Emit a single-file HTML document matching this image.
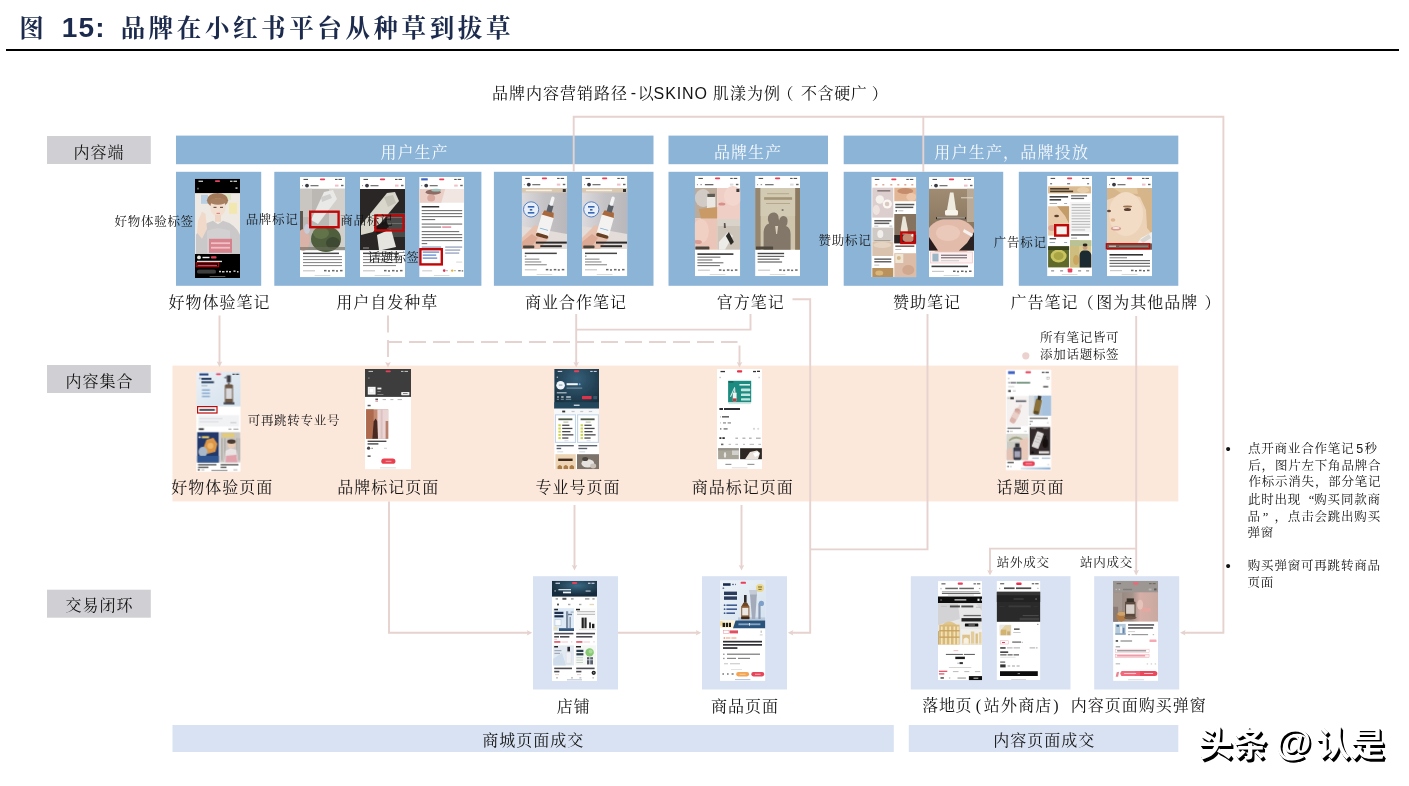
<!DOCTYPE html>
<html lang="zh-CN"><head><meta charset="utf-8"><title>图 15</title>
<style>
html,body{margin:0;padding:0;background:#fff;}
body{width:1409px;height:786px;position:relative;overflow:hidden;font-family:"Liberation Serif",serif;color:#141414;}
svg{position:absolute;left:0;top:0;}
.t{position:absolute;white-space:nowrap;line-height:1;}
.la{font-family:"Liberation Sans",sans-serif;}
.ts{font-family:"Liberation Sans",sans-serif;letter-spacing:1.2px;}
.title{font-weight:bold;color:#1c2b4d;}
.gh{font-family:"Liberation Serif",serif;color:transparent;}
.wm{font-family:"Liberation Sans",sans-serif;font-weight:bold;color:#fff;text-shadow:2.2px 2.2px 0 #000,1.5px 1.5px 0 #000,0.8px 0.8px 0 #000;}
</style></head>
<body>
<svg width="1409" height="786" viewBox="0 0 1409 786">
<rect x="6" y="49" width="1393" height="2" fill="#000"/>
<rect x="47" y="136" width="103.8" height="28" fill="#d0cfd3"/>
<rect x="47" y="365" width="103.8" height="28" fill="#d0cfd3"/>
<rect x="47" y="589.7" width="103.8" height="28" fill="#d0cfd3"/>
<rect x="176" y="135.6" width="477.5" height="28.6" fill="#8cb4d7"/>
<rect x="668.5" y="135.6" width="159.5" height="28.6" fill="#8cb4d7"/>
<rect x="843.7" y="135.6" width="334.6" height="28.6" fill="#8cb4d7"/>
<rect x="176" y="171.8" width="85.2" height="114" fill="#8cb4d7"/>
<rect x="274.3" y="171.8" width="207.1" height="114" fill="#8cb4d7"/>
<rect x="493.9" y="171.8" width="159.6" height="114" fill="#8cb4d7"/>
<rect x="668.5" y="171.8" width="159.5" height="114" fill="#8cb4d7"/>
<rect x="843.7" y="171.8" width="159.5" height="114" fill="#8cb4d7"/>
<rect x="1018.8" y="171.8" width="159.5" height="114" fill="#8cb4d7"/>
<rect x="172.5" y="365.6" width="1005.8" height="135.8" fill="#fce7db"/>
<rect x="533" y="576.2" width="85" height="113.3" fill="#d9e2f3"/>
<rect x="702" y="576.2" width="85" height="113.3" fill="#d9e2f3"/>
<rect x="910.8" y="576.2" width="159.7" height="113.3" fill="#d9e2f3"/>
<rect x="1094.2" y="576.2" width="85" height="113.3" fill="#d9e2f3"/>
<rect x="172.5" y="725" width="721.3" height="27" fill="#d9e2f3"/>
<rect x="908.8" y="725" width="269.5" height="27" fill="#d9e2f3"/>
<filter id="soft" x="0" y="0" width="1409" height="786" filterUnits="userSpaceOnUse"><feGaussianBlur stdDeviation="0.42"/></filter>
<g filter="url(#soft)"><svg x="195" y="178.8" width="45" height="99.2" viewBox="0 0 45 99.2"><rect x="0" y="0" width="45" height="99.2" fill="#050505"/><rect x="0" y="14.3" width="45" height="60.9" fill="#efe9e3"/><rect x="6" y="16" width="7" height="9" fill="#b9d0e4"/><rect x="34" y="24" width="8" height="11" fill="#f3e7b0"/><rect x="30" y="15" width="6" height="6" fill="#dfe6c2"/><ellipse cx="22.5" cy="21.5" rx="10.6" ry="7.4" fill="#a27a5a"/><ellipse cx="23" cy="28.5" rx="7.6" ry="9.2" fill="#f3dfd0"/><ellipse cx="23" cy="22.6" rx="8.2" ry="3.4" fill="#a9805f"/><g fill="#6a4a3c"><rect x="18.5" y="28" width="3" height="1.1"/><rect x="25" y="28" width="3" height="1.1"/></g><g fill="#d88a86"><rect x="21.5" y="34" width="3.5" height="1.2"/></g><rect x="20" y="36" width="6" height="7" fill="#efd5c4"/><path d="M1,75.2 V56 Q7,45 18,42 L23,45.5 L28,42 Q40,45 45,56 V75.2 Z" fill="#cbc8ca"/><path d="M12,75.2 V52 Q23,47 35,52 V75.2 Z" fill="#d3d0d2"/><polygon points="3,42 7,33 10.5,35 12,50 7,60 2,54" fill="#f1d9c9"/><rect x="14" y="60" width="23" height="14" fill="#d8707e" opacity="0.8"/><g fill="#f0c0c4"><rect x="16" y="63.5" width="19" height="1.8"/><rect x="16" y="68" width="19" height="1.8"/></g><rect x="19.9" y="1.4" width="5.2" height="1.8" fill="#e8405a" rx="0.9"/><g fill="#eee"><rect x="3.5" y="1.9" width="4.5" height="1.1"/><rect x="35" y="1.9" width="2.5" height="1.1"/><rect x="38.5" y="1.9" width="3.5" height="1.1"/></g><g fill="#bbb"><rect x="2.5" y="9" width="1" height="1.6"/><rect x="40.5" y="8.5" width="2" height="1.6"/></g><circle cx="4" cy="78.6" r="1.9" fill="#e8e8e0"/><g fill="#eee"><rect x="7.5" y="78" width="7" height="1.4"/></g><rect x="16" y="77.4" width="5.5" height="2.4" fill="#e8405a" rx="0.8"/><g fill="#ddd"><rect x="2" y="82" width="25" height="1.3"/></g><g fill="#d04458"><rect x="2.5" y="86" width="19.5" height="1.5"/></g><rect x="2" y="91" width="19" height="3.6" fill="#3c3c3c" rx="1.6"/><g fill="#ccc"><rect x="24" y="92" width="2" height="1.5"/><rect x="27" y="92.2" width="2.5" height="1.5"/><rect x="31" y="92" width="2" height="1.5"/><rect x="34" y="92.2" width="2" height="1.5"/><rect x="38.5" y="91.6" width="2" height="1.5"/><rect x="42" y="92.2" width="1.5" height="1.5"/></g><rect x="14.5" y="97.5" width="16" height="0.8" fill="#777" rx="0.4"/></svg>
<svg x="300" y="177" width="45" height="100.2" viewBox="0 0 45 100.2"><rect x="0" y="0" width="45" height="100.2" fill="#fff"/><rect x="0" y="11.8" width="45" height="61.3" fill="#bbb7b3"/><rect x="29" y="11.8" width="16" height="61.3" fill="#d3cfcb"/><rect x="0" y="11.8" width="12" height="28.2" fill="#c9c5c1"/><polygon points="24,15 33,13 37,22 18,47 11,43" fill="#e9e9e7"/><polygon points="21,20 30,17 32,21 22,25" fill="#cfcfcd"/><rect x="0" y="34" width="3" height="24" fill="#5f5850"/><ellipse cx="26" cy="62" rx="15" ry="13" fill="#4f5f3d"/><ellipse cx="21" cy="56" rx="8" ry="6" fill="#62724a"/><ellipse cx="33" cy="66" rx="7" ry="6" fill="#3d4a30"/><ellipse cx="3.5" cy="63" rx="6.5" ry="11" fill="#d9b2a8"/><ellipse cx="7" cy="52" rx="3" ry="5" fill="#c8ccd8"/><rect x="0" y="70" width="45" height="3.1" fill="#6b6a5c" opacity="0.6"/><rect x="19.9" y="1.4" width="5.2" height="1.8" fill="#e8405a" rx="0.9"/><g fill="#555"><rect x="3.5" y="1.9" width="4.5" height="1.1"/><rect x="35" y="1.9" width="2.5" height="1.1"/><rect x="38.5" y="1.9" width="3.5" height="1.1"/></g><g fill="#999"><rect x="2" y="8" width="1" height="1.2"/></g><circle cx="7" cy="8.6" r="1.9" fill="#3a3a44"/><g fill="#777"><rect x="10.5" y="8" width="8" height="1.3"/></g><g fill="#f0c0c8"><rect x="35" y="7.6" width="3.5" height="2"/></g><g fill="#666"><rect x="41" y="7.8" width="2.5" height="1.4"/></g><g fill="#444"><rect x="3" y="75.6" width="36" height="1.5"/></g><g fill="#8c8c8c"><rect x="3" y="79" width="39" height="1.1"/><rect x="3" y="82" width="39" height="1.1"/><rect x="3" y="85" width="39" height="1.1"/><rect x="3" y="88" width="39" height="1.1"/></g><g fill="#c8c8c8"><rect x="3" y="93.2" width="12" height="1.2"/></g><g fill="#666"><rect x="24" y="92.9" width="2.5" height="1.5"/><rect x="28" y="93.2" width="2" height="1.5"/><rect x="32" y="92.9" width="2.5" height="1.5"/><rect x="36" y="93.2" width="2" height="1.5"/><rect x="40" y="92.9" width="2.5" height="1.5"/></g><rect x="14.5" y="98.3" width="16" height="0.8" fill="#cfcfcf" rx="0.4"/></svg>
<svg x="360" y="177" width="45.1" height="100.2" viewBox="0 0 45.1 100.2"><rect x="0" y="0" width="45.1" height="100.2" fill="#fff"/><rect x="0" y="12" width="45" height="61.1" fill="#2a2826"/><rect x="27" y="36" width="18" height="24" fill="#4a4846"/><g fill="#777"><rect x="28" y="40" width="17" height="0.8"/><rect x="28" y="46" width="17" height="0.8"/><rect x="28" y="52" width="17" height="0.8"/></g><polygon points="27,16 35,15 39,24 13,55 1,58 1,48" fill="#d9d7cb"/><polygon points="24,20 33,18 36,26 28,30" fill="#c4c2b6"/><polygon points="17,58 31,52 36,70 22,73.1 19,73.1" fill="#e6e4de"/><polygon points="14,50 26,44 29,50 17,57" fill="#1a1816"/><g fill="#999"><rect x="3" y="70.5" width="6" height="1"/></g><rect x="19.9" y="1.4" width="5.2" height="1.8" fill="#e8405a" rx="0.9"/><g fill="#555"><rect x="3.5" y="1.9" width="4.5" height="1.1"/><rect x="35" y="1.9" width="2.5" height="1.1"/><rect x="38.5" y="1.9" width="3.5" height="1.1"/></g><g fill="#999"><rect x="2" y="8" width="1" height="1.2"/></g><circle cx="7" cy="8.6" r="1.9" fill="#3a3a44"/><g fill="#777"><rect x="10.5" y="8" width="8" height="1.3"/></g><g fill="#f0c0c8"><rect x="35" y="7.6" width="3.5" height="2"/></g><g fill="#666"><rect x="41" y="7.8" width="2.5" height="1.4"/></g><g fill="#444"><rect x="3" y="75.6" width="36" height="1.5"/></g><g fill="#8c8c8c"><rect x="3" y="79" width="39" height="1.1"/><rect x="3" y="82" width="39" height="1.1"/><rect x="3" y="85" width="39" height="1.1"/><rect x="3" y="88" width="33" height="1.1"/></g><g fill="#c8c8c8"><rect x="3" y="93.2" width="12" height="1.2"/></g><g fill="#666"><rect x="24" y="92.9" width="2.5" height="1.5"/><rect x="28" y="93.2" width="2" height="1.5"/><rect x="32" y="92.9" width="2.5" height="1.5"/><rect x="36" y="93.2" width="2" height="1.5"/><rect x="40" y="92.9" width="2.5" height="1.5"/></g><rect x="14.5" y="98.3" width="16" height="0.8" fill="#cfcfcf" rx="0.4"/></svg>
<svg x="419.2" y="177" width="45" height="100.2" viewBox="0 0 45 100.2"><rect x="0" y="0" width="45" height="100.2" fill="#fff"/><rect x="0" y="12" width="45" height="13.7" fill="#f1e6e2"/><polygon points="0,12 26,12 22,25.7 0,25.7" fill="#ebcfc7"/><ellipse cx="14" cy="15.2" rx="7.5" ry="2.6" fill="#8f6c63"/><ellipse cx="17" cy="13.2" rx="5" ry="1.4" fill="#9fc2ba"/><ellipse cx="12" cy="21" rx="4" ry="3.5" fill="#d9a89c"/><rect x="19.9" y="1.4" width="5.2" height="1.8" fill="#e8405a" rx="0.9"/><g fill="#555"><rect x="3.5" y="1.9" width="4.5" height="1.1"/><rect x="35" y="1.9" width="2.5" height="1.1"/><rect x="38.5" y="1.9" width="3.5" height="1.1"/></g><rect x="2" y="1.3" width="6.5" height="2.1" fill="#3f62c4"/><g fill="#999"><rect x="2" y="8" width="1" height="1.2"/></g><circle cx="7" cy="8.6" r="1.9" fill="#3a3a44"/><g fill="#777"><rect x="10.5" y="8" width="8" height="1.3"/></g><g fill="#f0c0c8"><rect x="35" y="7.6" width="3.5" height="2"/></g><g fill="#666"><rect x="41" y="7.8" width="2.5" height="1.4"/></g><g fill="#333"><rect x="2.5" y="29" width="17.5" height="1.5"/></g><g fill="#777"><rect x="2.5" y="33" width="40.5" height="1.15"/><rect x="2.5" y="36" width="40.5" height="1.15"/><rect x="2.5" y="39" width="40.5" height="1.15"/><rect x="2.5" y="42" width="13.5" height="1.15"/></g><g fill="#777"><rect x="2.5" y="46.5" width="40.5" height="1.15"/><rect x="2.5" y="49.5" width="19.5" height="1.15"/></g><g fill="#d86a80"><rect x="23" y="49.5" width="9" height="1.15"/></g><g fill="#777"><rect x="2.5" y="54" width="37.5" height="1.15"/><rect x="2.5" y="57" width="40.5" height="1.15"/><rect x="2.5" y="60" width="40.5" height="1.15"/><rect x="2.5" y="63" width="40.5" height="1.15"/><rect x="2.5" y="66" width="5.5" height="1.15"/></g><g fill="#8a94b4"><rect x="2.5" y="69.5" width="19.5" height="1.15"/><rect x="26" y="69.5" width="17" height="1.15"/><rect x="26" y="72.5" width="15" height="1.15"/><rect x="26" y="75.5" width="14" height="1.15"/></g><g fill="#5b7fc6"><rect x="3.5" y="74.5" width="16.5" height="1.2"/><rect x="3.5" y="77.5" width="13.5" height="1.2"/><rect x="3.5" y="80.5" width="14.5" height="1.2"/></g><g fill="#ddd"><rect x="37" y="84.5" width="6" height="1.2"/></g><g fill="#d0d0d0"><rect x="3" y="93.2" width="10" height="1.2"/></g><circle cx="25" cy="93.6" r="1.3" fill="#e03050"/><g fill="#999"><rect x="27" y="93.2" width="1.5" height="1"/></g><circle cx="33" cy="93.6" r="1.2" fill="#e8b030"/><g fill="#999"><rect x="35" y="93.2" width="1.5" height="1"/></g><g fill="#777"><rect x="39" y="93" width="2.5" height="1.4"/><rect x="42.5" y="93.2" width="1.5" height="1.4"/></g><rect x="14.5" y="98.3" width="16" height="0.8" fill="#cfcfcf" rx="0.4"/></svg>
<svg x="521.8" y="176" width="45.3" height="100.2" viewBox="0 0 45.3 100.2"><rect x="0" y="0" width="45.3" height="100.2" fill="#fff"/><rect x="0" y="12" width="45.3" height="61" fill="#c9c7c9"/><defs><linearGradient id="g56_521" x1="0" y1="0" x2="1" y2="0"><stop offset="0" stop-color="#dcdadc"/><stop offset="0.5" stop-color="#c4c2c4"/><stop offset="1" stop-color="#b9b7b9"/></linearGradient></defs><rect x="0" y="12" width="45.3" height="61" fill="url(#g56_521)"/><polygon points="0,50 45.3,58 45.3,73 0,73" fill="#e3dcd8"/><rect x="0" y="12" width="45.3" height="4.6" fill="#d9c9b2"/><g fill="#f6efe4"><rect x="4" y="13.7" width="26" height="1.5"/></g><rect x="41" y="13" width="3" height="3" fill="#333"/><polygon points="0,62 13,49 24,54 27,62 18,73 0,73" fill="#e7c0ae"/><polygon points="0,66 10,58 16,62 8,73 0,73" fill="#dba994"/><g transform="rotate(16 24 46)"><rect x="18" y="37" width="12.5" height="25" fill="#f3f2f0" rx="2"/><polygon points="18,40 19.5,35 29,35 30.5,40" fill="#a9673a"/><rect x="18" y="58.5" width="12.5" height="3.5" fill="#6a3f24" rx="1.5"/><rect x="21.6" y="28.5" width="5.4" height="7" fill="#5b6068"/><rect x="22.6" y="19.5" width="3.4" height="9.5" fill="#f4f4f4" rx="1.6"/><g fill="#7fb0d0"><rect x="20" y="53" width="8.5" height="0.9"/></g></g><circle cx="9.3" cy="33.4" r="7.6" fill="#e9eff9" stroke="#4f7fc9" stroke-width="1"/><g fill="#3565b5"><rect x="6" y="30" width="6.5" height="1.6"/><rect x="8" y="33" width="2.5" height="1.6"/><rect x="6" y="36" width="6.5" height="1.6"/></g><g fill="#2c2c2c"><rect x="14" y="65.6" width="31" height="2"/><rect x="18.5" y="69.2" width="21.5" height="2"/></g><rect x="1.3" y="69.4" width="11.2" height="2.8" fill="#4a443c" rx="0.6"/><rect x="20.05" y="1.4" width="5.2" height="1.8" fill="#e8405a" rx="0.9"/><g fill="#555"><rect x="3.5" y="1.9" width="4.5" height="1.1"/><rect x="35.3" y="1.9" width="2.5" height="1.1"/><rect x="38.8" y="1.9" width="3.5" height="1.1"/></g><g fill="#999"><rect x="2" y="8" width="1" height="1.2"/></g><circle cx="7" cy="8.6" r="1.9" fill="#3a3a44"/><g fill="#777"><rect x="10.5" y="8" width="8" height="1.3"/></g><g fill="#f0c0c8"><rect x="35" y="7.6" width="3.5" height="2"/></g><g fill="#666"><rect x="41" y="7.8" width="2.5" height="1.4"/></g><g fill="#444"><rect x="3" y="76.6" width="32" height="1.5"/></g><g fill="#666"><rect x="3" y="79.6" width="1.5" height="1"/></g><g fill="#8c8c8c"><rect x="3" y="82.6" width="14.5" height="1.1"/><rect x="3" y="85.4" width="16.5" height="1.1"/><rect x="3" y="88.2" width="22" height="1.1"/></g><g fill="#c8c8c8"><rect x="3" y="93.2" width="12" height="1.2"/></g><g fill="#666"><rect x="24" y="92.9" width="2.5" height="1.5"/><rect x="28" y="93.2" width="2" height="1.5"/><rect x="32" y="92.9" width="2.5" height="1.5"/><rect x="36" y="93.2" width="2" height="1.5"/><rect x="40" y="92.9" width="2.5" height="1.5"/></g><rect x="14.65" y="98.3" width="16" height="0.8" fill="#cfcfcf" rx="0.4"/></svg>
<svg x="582" y="176" width="45.3" height="100.2" viewBox="0 0 45.3 100.2"><rect x="0" y="0" width="45.3" height="100.2" fill="#fff"/><rect x="0" y="12" width="45.3" height="61" fill="#c9c7c9"/><defs><linearGradient id="g56_582" x1="0" y1="0" x2="1" y2="0"><stop offset="0" stop-color="#dcdadc"/><stop offset="0.5" stop-color="#c4c2c4"/><stop offset="1" stop-color="#b9b7b9"/></linearGradient></defs><rect x="0" y="12" width="45.3" height="61" fill="url(#g56_582)"/><polygon points="0,50 45.3,58 45.3,73 0,73" fill="#e3dcd8"/><rect x="0" y="12" width="45.3" height="4.6" fill="#d9c9b2"/><g fill="#f6efe4"><rect x="4" y="13.7" width="26" height="1.5"/></g><rect x="41" y="13" width="3" height="3" fill="#333"/><polygon points="0,62 13,49 24,54 27,62 18,73 0,73" fill="#e7c0ae"/><polygon points="0,66 10,58 16,62 8,73 0,73" fill="#dba994"/><g transform="rotate(16 24 46)"><rect x="18" y="37" width="12.5" height="25" fill="#f3f2f0" rx="2"/><polygon points="18,40 19.5,35 29,35 30.5,40" fill="#a9673a"/><rect x="18" y="58.5" width="12.5" height="3.5" fill="#6a3f24" rx="1.5"/><rect x="21.6" y="28.5" width="5.4" height="7" fill="#5b6068"/><rect x="22.6" y="19.5" width="3.4" height="9.5" fill="#f4f4f4" rx="1.6"/><g fill="#7fb0d0"><rect x="20" y="53" width="8.5" height="0.9"/></g></g><circle cx="9.3" cy="33.4" r="7.6" fill="#e9eff9" stroke="#4f7fc9" stroke-width="1"/><g fill="#3565b5"><rect x="6" y="30" width="6.5" height="1.6"/><rect x="8" y="33" width="2.5" height="1.6"/><rect x="6" y="36" width="6.5" height="1.6"/></g><g fill="#2c2c2c"><rect x="14" y="65.6" width="31" height="2"/><rect x="18.5" y="69.2" width="21.5" height="2"/></g><rect x="1.3" y="69.4" width="11.2" height="2.8" fill="#4a443c" rx="0.6"/><rect x="20.05" y="1.4" width="5.2" height="1.8" fill="#e8405a" rx="0.9"/><g fill="#555"><rect x="3.5" y="1.9" width="4.5" height="1.1"/><rect x="35.3" y="1.9" width="2.5" height="1.1"/><rect x="38.8" y="1.9" width="3.5" height="1.1"/></g><g fill="#999"><rect x="2" y="8" width="1" height="1.2"/></g><circle cx="7" cy="8.6" r="1.9" fill="#3a3a44"/><g fill="#777"><rect x="10.5" y="8" width="8" height="1.3"/></g><g fill="#f0c0c8"><rect x="35" y="7.6" width="3.5" height="2"/></g><g fill="#666"><rect x="41" y="7.8" width="2.5" height="1.4"/></g><g fill="#444"><rect x="3" y="76.6" width="32" height="1.5"/></g><g fill="#666"><rect x="3" y="79.6" width="1.5" height="1"/></g><g fill="#8c8c8c"><rect x="3" y="82.6" width="14.5" height="1.1"/><rect x="3" y="85.4" width="16.5" height="1.1"/><rect x="3" y="88.2" width="22" height="1.1"/></g><g fill="#c8c8c8"><rect x="3" y="93.2" width="12" height="1.2"/></g><g fill="#666"><rect x="24" y="92.9" width="2.5" height="1.5"/><rect x="28" y="93.2" width="2" height="1.5"/><rect x="32" y="92.9" width="2.5" height="1.5"/><rect x="36" y="93.2" width="2" height="1.5"/><rect x="40" y="92.9" width="2.5" height="1.5"/></g><rect x="14.65" y="98.3" width="16" height="0.8" fill="#cfcfcf" rx="0.4"/></svg>
<svg x="694.9" y="176" width="45.3" height="100.2" viewBox="0 0 45.3 100.2"><rect x="0" y="0" width="45.3" height="100.2" fill="#fff"/><rect x="0" y="12" width="22.3" height="30.5" fill="#bbab9b"/><rect x="22.3" y="12" width="23" height="31.4" fill="#efcec5"/><rect x="0" y="42.5" width="22.3" height="31.2" fill="#ebc5b7"/><rect x="22.3" y="43.4" width="23" height="30.3" fill="#ccc4b8"/><ellipse cx="8" cy="22" rx="8" ry="9" fill="#d2cac4"/><rect x="12" y="20" width="8.5" height="13" fill="#ebe7e3" rx="1"/><rect x="12.5" y="17.8" width="7.5" height="3.2" fill="#5e5a52"/><polygon points="4,33 22.3,31 22.3,42.5 6,42.5" fill="#c99a66"/><ellipse cx="27" cy="28" rx="3.5" ry="1.6" fill="#d98f8a"/><ellipse cx="38" cy="20" rx="9" ry="10" fill="#f3d6cd"/><ellipse cx="6" cy="55" rx="8" ry="12" fill="#f0d0c3"/><ellipse cx="3" cy="66" rx="4" ry="2" fill="#d99c92"/><rect x="22.3" y="43.4" width="23" height="6.6" fill="#d9d3c9"/><polygon points="24,66 33,56 38,60 30,73.7 24,73.7" fill="#ecebe7"/><polygon points="31,60 34,56 39,66 36,69" fill="#2c2a26"/><polygon points="29,47 30.5,47 31,52 29,52" fill="#5a5650"/><rect x="0.5" y="70.4" width="14" height="3" fill="#4a443e" rx="0.5"/><rect x="41.5" y="12.8" width="3" height="3.2" fill="#3a3a3a"/><rect x="20.05" y="1.4" width="5.2" height="1.8" fill="#e8405a" rx="0.9"/><g fill="#555"><rect x="3.5" y="1.9" width="4.5" height="1.1"/><rect x="35.3" y="1.9" width="2.5" height="1.1"/><rect x="38.8" y="1.9" width="3.5" height="1.1"/></g><g fill="#999"><rect x="2" y="8" width="1" height="1.2"/><rect x="5.5" y="8" width="1.5" height="1.2"/></g><g fill="#666"><rect x="10" y="8" width="8.5" height="1.3"/></g><g fill="#ddd"><rect x="35" y="7.6" width="3.5" height="2"/></g><g fill="#666"><rect x="41" y="7.8" width="2.5" height="1.4"/></g><g fill="#333"><rect x="2.5" y="77.3" width="36" height="1.6"/></g><g fill="#777"><rect x="2.5" y="80.6" width="23" height="1.15"/><rect x="2.5" y="83.4" width="15" height="1.15"/><rect x="2.5" y="86.2" width="26" height="1.15"/><rect x="2.5" y="89" width="22.5" height="1.15"/></g><g fill="#c8c8c8"><rect x="3" y="93.6" width="12" height="1.2"/></g><g fill="#666"><rect x="24" y="93.3" width="2.5" height="1.5"/><rect x="28" y="93.6" width="2" height="1.5"/><rect x="32" y="93.3" width="2.5" height="1.5"/><rect x="36" y="93.6" width="2" height="1.5"/><rect x="40" y="93.3" width="2.5" height="1.5"/></g><rect x="14.65" y="98.3" width="16" height="0.8" fill="#cfcfcf" rx="0.4"/></svg>
<svg x="755.1" y="176" width="45" height="100.2" viewBox="0 0 45 100.2"><rect x="0" y="0" width="45" height="100.2" fill="#fff"/><rect x="0" y="12" width="45" height="61.7" fill="#cfc5ad"/><rect x="0" y="12" width="5.5" height="61.7" fill="#968670"/><rect x="40" y="12" width="5" height="61.7" fill="#8c7962"/><rect x="5.5" y="12" width="34.5" height="28" fill="#d3cab3"/><g fill="#b5a88c"><rect x="12" y="17.2" width="22" height="1"/><rect x="11" y="27" width="24" height="1"/></g><g fill="#a39577"><rect x="9" y="21.2" width="28" height="2.6"/></g><path d="M8.5,73.7 V56 Q9,49 14,47.5 Q12,44 13,40.5 Q15,36 19.5,36.5 Q23.5,37.5 23.5,42 L24,44.5 Q25,40 28.5,40 Q32.5,40.5 32.5,45 Q32.5,48 31,50 Q35.5,52 35.5,58 V73.7 Z" fill="#83776a"/><polygon points="20,50 23,50 22,58 21,58" fill="#d8d0ba"/><circle cx="27.5" cy="34" r="1.1" fill="#83776a"/><rect x="0.8" y="70.4" width="17.2" height="3" fill="#4d463e" rx="0.5"/><rect x="19.9" y="1.4" width="5.2" height="1.8" fill="#e8405a" rx="0.9"/><g fill="#555"><rect x="3.5" y="1.9" width="4.5" height="1.1"/><rect x="35" y="1.9" width="2.5" height="1.1"/><rect x="38.5" y="1.9" width="3.5" height="1.1"/></g><g fill="#999"><rect x="2" y="8" width="1" height="1.2"/><rect x="5.5" y="8" width="1.5" height="1.2"/></g><g fill="#777"><rect x="10" y="8" width="8.5" height="1.3"/></g><g fill="#ddd"><rect x="35" y="7.6" width="3.5" height="2"/></g><g fill="#666"><rect x="41" y="7.8" width="2.5" height="1.4"/></g><g fill="#444"><rect x="2.5" y="76.8" width="26.5" height="1.4"/></g><g fill="#666"><rect x="2.5" y="79.8" width="26.5" height="1.2"/><rect x="2.5" y="82.6" width="22" height="1.2"/><rect x="2.5" y="85.4" width="24.5" height="1.2"/></g><g fill="#c8c8c8"><rect x="3" y="93.6" width="12" height="1.2"/></g><g fill="#666"><rect x="24" y="93.3" width="2.5" height="1.5"/><rect x="28" y="93.6" width="2" height="1.5"/><rect x="32" y="93.3" width="2.5" height="1.5"/><rect x="36" y="93.6" width="2" height="1.5"/><rect x="40" y="93.3" width="2.5" height="1.5"/></g><rect x="14.5" y="98.3" width="16" height="0.8" fill="#cfcfcf" rx="0.4"/></svg>
<svg x="871.3" y="177" width="45" height="100.2" viewBox="0 0 45 100.2"><rect x="0" y="0" width="45" height="100.2" fill="#fff"/><rect x="19.9" y="1.4" width="5.2" height="1.8" fill="#e8405a" rx="0.9"/><g fill="#555"><rect x="3.5" y="1.9" width="4.5" height="1.1"/><rect x="35" y="1.9" width="2.5" height="1.1"/><rect x="38.5" y="1.9" width="3.5" height="1.1"/></g><g fill="#e0a890"><rect x="4" y="7" width="2" height="1.5"/><rect x="11" y="7" width="2" height="1.5"/><rect x="19" y="7" width="2" height="1.5"/><rect x="26" y="7" width="2" height="1.5"/><rect x="33" y="7" width="2" height="1.5"/><rect x="40" y="7" width="2" height="1.5"/></g><rect x="1" y="10.7" width="21" height="29.9" fill="#dccdce"/><g fill="#8a7c7c"><rect x="6" y="13" width="13" height="1.6"/></g><circle cx="8.5" cy="22.5" r="4.2" fill="#f5f1ed"/><circle cx="16" cy="27" r="4.6" fill="#faf6f2"/><circle cx="15.8" cy="27" r="2.3" fill="#d9c9bf"/><ellipse cx="5" cy="33" rx="3.5" ry="5" fill="#efe3e0"/><g fill="#5e5e5e"><rect x="3" y="43" width="17" height="1.5"/><rect x="3" y="45.6" width="15" height="1.5"/></g><g fill="#bbb"><rect x="3" y="48.6" width="4" height="1"/><rect x="18" y="48.6" width="3" height="1"/></g><rect x="1" y="50.6" width="21" height="13.9" fill="#d0cac6"/><ellipse cx="9" cy="57" rx="3" ry="4" fill="#f1efec"/><g fill="#a89d92"><rect x="3" y="63" width="16" height="1.2"/></g><rect x="1" y="64.5" width="21" height="14.5" fill="#d9c3ae"/><ellipse cx="11" cy="68" rx="9" ry="3" fill="#e6d4c2"/><g fill="#666"><rect x="3" y="81.4" width="17" height="1.5"/><rect x="3" y="84" width="17" height="1.5"/></g><g fill="#bbb"><rect x="3" y="87.6" width="5" height="1"/></g><rect x="1" y="91" width="21" height="9.2" fill="#b8915c"/><ellipse cx="8" cy="96" rx="4" ry="2.5" fill="#d9b679"/><rect x="23" y="10.7" width="22" height="13.5" fill="#e2b595"/><ellipse cx="34" cy="14" rx="8" ry="3" fill="#c58d6c"/><ellipse cx="40" cy="20" rx="5" ry="4" fill="#edc8ac"/><g fill="#555"><rect x="24" y="26.8" width="19" height="1.5"/><rect x="24" y="29.6" width="18" height="1.5"/></g><circle cx="25" cy="33.8" r="0.9" fill="#555"/><g fill="#bbb"><rect x="27" y="33.3" width="5" height="1"/></g><rect x="23" y="37" width="22" height="29.3" fill="#86735f"/><rect x="23" y="58" width="22" height="8.3" fill="#2b2321"/><polygon points="31.5,39.5 34,39.5 36.5,52 36.5,57 29.5,57 29.5,52" fill="#e9e5d9"/><ellipse cx="37" cy="61" rx="6" ry="4.5" fill="#c48c74"/><circle cx="41.5" cy="58.2" r="1.5" fill="#f6f0e6"/><g fill="#7a5f56"><rect x="24" y="68.4" width="19" height="1.6"/></g><g fill="#bbb"><rect x="24" y="72" width="6" height="1"/></g><rect x="23" y="76.2" width="22" height="24" fill="#dcbca6"/><rect x="24" y="77" width="8" height="9" fill="#efe5d3"/><circle cx="27.5" cy="81" r="2" fill="#d5b98c"/><ellipse cx="37" cy="93" rx="6" ry="5" fill="#cfa88f"/></svg>
<svg x="929" y="177" width="45" height="100.2" viewBox="0 0 45 100.2"><rect x="0" y="0" width="45" height="100.2" fill="#fff"/><defs><linearGradient id="g10" x1="0" y1="0" x2="0" y2="1"><stop offset="0" stop-color="#a08c72"/><stop offset="1" stop-color="#7d6a54"/></linearGradient></defs><rect x="0" y="11.8" width="45" height="61.6" fill="url(#g10)"/><rect x="38" y="11.8" width="7" height="33.2" fill="#b9ab97"/><ellipse cx="22" cy="60" rx="25" ry="19" fill="#e2bbaa"/><ellipse cx="19" cy="56" rx="12" ry="8" fill="#ebc9ba"/><polygon points="0,60 9,73.4 0,73.4" fill="#2b1f1f"/><polygon points="45,55 45,73.4 30,73.4 38,66" fill="#2b2020"/><polygon points="21,15.5 24.5,15.5 27,33 18,33" fill="#efebdf"/><rect x="16" y="33" width="13" height="5.5" fill="#f7f4ec" rx="1.5"/><g fill="#2f2a24"><rect x="7" y="40.2" width="30" height="2"/></g><g fill="#efe9df"><rect x="8" y="40.5" width="28" height="0.9"/></g><g fill="#ded6c8"><rect x="32" y="20.3" width="12" height="1"/></g><polygon points="35,52 44,57 43,60 34,55" fill="#f4f1ee"/><rect x="19.9" y="1.4" width="5.2" height="1.8" fill="#e8405a" rx="0.9"/><g fill="#555"><rect x="3.5" y="1.9" width="4.5" height="1.1"/><rect x="35" y="1.9" width="2.5" height="1.1"/><rect x="38.5" y="1.9" width="3.5" height="1.1"/></g><g fill="#999"><rect x="2" y="8" width="1" height="1.2"/></g><circle cx="7" cy="8.6" r="1.9" fill="#3a3a44"/><g fill="#777"><rect x="10.5" y="8" width="8" height="1.3"/></g><g fill="#f0c0c8"><rect x="35" y="7.6" width="3.5" height="2"/></g><g fill="#666"><rect x="41" y="7.8" width="2.5" height="1.4"/></g><rect x="1.6" y="75" width="41.8" height="11" fill="#fdf1f1" stroke="#efc4c6" stroke-width="0.7"/><rect x="3.4" y="76.6" width="6.1" height="7.8" fill="#9db6c6"/><g fill="#8a8088"><rect x="12" y="77.6" width="26" height="1.4"/><rect x="12" y="80" width="26" height="1.4"/></g><g fill="#ccc"><rect x="12" y="83.2" width="18" height="1"/></g><g fill="#3c3c3c"><rect x="2.5" y="88.6" width="36.5" height="1.6"/></g><g fill="#c8c8c8"><rect x="3" y="93.8" width="12" height="1.2"/></g><g fill="#666"><rect x="24" y="93.5" width="2.5" height="1.5"/><rect x="28" y="93.8" width="2" height="1.5"/><rect x="32" y="93.5" width="2.5" height="1.5"/><rect x="36" y="93.8" width="2" height="1.5"/><rect x="40" y="93.5" width="2.5" height="1.5"/></g><rect x="14.5" y="98.3" width="16" height="0.8" fill="#cfcfcf" rx="0.4"/></svg>
<svg x="1047.1" y="176" width="45" height="100.2" viewBox="0 0 45 100.2"><rect x="0" y="0" width="45" height="100.2" fill="#fff"/><rect x="19.9" y="1.4" width="5.2" height="1.8" fill="#e8405a" rx="0.9"/><g fill="#555"><rect x="3.5" y="1.9" width="4.5" height="1.1"/><rect x="35" y="1.9" width="2.5" height="1.1"/><rect x="38.5" y="1.9" width="3.5" height="1.1"/></g><g fill="#888"><rect x="3" y="7" width="2" height="1.4"/><rect x="20" y="7" width="3" height="1.4"/><rect x="40" y="7" width="2" height="1.4"/></g><rect x="1" y="10.3" width="43" height="7.1" fill="#dabb92"/><g fill="#4a3a2a"><rect x="3" y="12" width="19" height="1.6"/><rect x="3" y="14.6" width="23" height="1.6"/></g><ellipse cx="36" cy="14" rx="6" ry="3" fill="#e9cfa9"/><g fill="#444"><rect x="2.5" y="20" width="18.5" height="1.6"/><rect x="2.5" y="23" width="11.5" height="1.6"/></g><g fill="#aaa"><rect x="2.5" y="27" width="7.5" height="1"/><rect x="17" y="27" width="3" height="1"/></g><rect x="1" y="30.3" width="21" height="29.3" fill="#e9cbaa"/><polygon points="10,30.3 22,30.3 22,48 18,40" fill="#c49c6b"/><ellipse cx="9.5" cy="40" rx="2.4" ry="1.2" fill="#5a3f30"/><ellipse cx="5" cy="52" rx="4" ry="3" fill="#dfa99a"/><rect x="9" y="50" width="11" height="8" fill="#f4f2ee"/><g fill="#555"><rect x="2.5" y="62" width="6.5" height="1.4"/></g><g fill="#9ab"><rect x="2.5" y="66" width="5.5" height="1"/><rect x="17" y="66" width="3" height="1"/></g><rect x="1" y="70.3" width="21" height="21.1" fill="#5f692c"/><ellipse cx="11.5" cy="80" rx="8" ry="6.5" fill="#c9c35f"/><ellipse cx="11.5" cy="80" rx="5" ry="4" fill="#a9a544"/><rect x="1" y="70.3" width="21" height="3.7" fill="#39421c"/><rect x="23" y="18" width="21.2" height="6.4" fill="#fff"/><g fill="#666"><rect x="24" y="19.2" width="16" height="1.3"/><rect x="24" y="21.8" width="13" height="1.3"/></g><rect x="23" y="26" width="21.2" height="30.4" fill="#f4f4f4"/><g fill="#bdbdbd"><rect x="24.5" y="28.2" width="18.5" height="1.1"/><rect x="24.5" y="31" width="18.5" height="1.1"/><rect x="24.5" y="33.8" width="18.5" height="1.1"/><rect x="24.5" y="36.6" width="18.5" height="1.1"/><rect x="24.5" y="39.4" width="18.5" height="1.1"/><rect x="24.5" y="42.2" width="18.5" height="1.1"/><rect x="24.5" y="45" width="18.5" height="1.1"/><rect x="24.5" y="47.8" width="18.5" height="1.1"/><rect x="24.5" y="50.6" width="18.5" height="1.1"/><rect x="24.5" y="53.4" width="13.5" height="1.1"/></g><g fill="#555"><rect x="24" y="58.2" width="18" height="1.5"/></g><g fill="#aaa"><rect x="24" y="61.6" width="6" height="1"/></g><rect x="23" y="64.3" width="21.2" height="27.1" fill="#d9c98f"/><rect x="23" y="64.3" width="9" height="27.1" fill="#cdbd7f"/><rect x="23" y="64.3" width="21.2" height="5.7" fill="#b9c295"/><path d="M32.5,91.4 V79 Q33,75 36,74.5 L40,74.5 Q43.5,75 44.2,79 V91.4 Z" fill="#1f2932"/><ellipse cx="38" cy="71.2" rx="2.3" ry="2.8" fill="#c69f80"/><ellipse cx="38" cy="69" rx="2.4" ry="1.4" fill="#2a221c"/><ellipse cx="29" cy="84" rx="3" ry="5" fill="#c9a55f"/><g fill="#aaa"><rect x="4" y="94" width="3" height="1.6"/><rect x="13" y="94" width="3" height="1.6"/><rect x="31" y="94" width="3" height="1.6"/><rect x="39" y="94" width="3" height="1.6"/></g><rect x="20.6" y="92.4" width="4.6" height="4" fill="#e8405a" rx="0.8"/><rect x="14.5" y="98.3" width="16" height="0.8" fill="#cfcfcf" rx="0.4"/></svg>
<svg x="1107" y="176" width="45" height="100.2" viewBox="0 0 45 100.2"><rect x="0" y="0" width="45" height="100.2" fill="#fff"/><rect x="0" y="12" width="45" height="61.7" fill="#ecd3b8"/><polygon points="0,12 45,12 45,58 40,52 39,34 33,21 18,17 0,24" fill="#d6b58b"/><polygon points="6,12 30,12 31,18 14,17" fill="#e2c69d"/><ellipse cx="19" cy="38" rx="17" ry="22" fill="#f2dcc6"/><ellipse cx="20.5" cy="33.5" rx="3.6" ry="1.6" fill="#5a3f30"/><ellipse cx="20.5" cy="30.5" rx="4.5" ry="1" fill="#9a744f"/><ellipse cx="2" cy="35" rx="2" ry="1.2" fill="#6a4a38"/><ellipse cx="9" cy="52.5" rx="5" ry="2" fill="#d9998c"/><ellipse cx="9" cy="52" rx="3.5" ry="0.9" fill="#f6ecea"/><ellipse cx="6" cy="44" rx="2.4" ry="1.8" fill="#dfb293"/><polygon points="26,73.7 34,62 45,56 45,73.7" fill="#f1efed"/><polygon points="33,64 42,58 44,62 36,67" fill="#d9d5d1"/><rect x="0" y="67.4" width="45" height="6.3" fill="#6b625a"/><g fill="#c9c1b5"><rect x="2" y="69.6" width="7" height="1.3"/></g><g fill="#8a8178"><rect x="12" y="69.8" width="29" height="1.2"/></g><rect x="41" y="12.6" width="3" height="3" fill="#c9b79b"/><rect x="19.9" y="1.4" width="5.2" height="1.8" fill="#e8405a" rx="0.9"/><g fill="#555"><rect x="3.5" y="1.9" width="4.5" height="1.1"/><rect x="35" y="1.9" width="2.5" height="1.1"/><rect x="38.5" y="1.9" width="3.5" height="1.1"/></g><g fill="#999"><rect x="2" y="8" width="1" height="1.2"/></g><circle cx="7" cy="8.6" r="1.9" fill="#3a3a44"/><g fill="#777"><rect x="10.5" y="8" width="8" height="1.3"/></g><g fill="#f0c0c8"><rect x="35" y="7.6" width="3.5" height="2"/></g><g fill="#666"><rect x="41" y="7.8" width="2.5" height="1.4"/></g><g fill="#333"><rect x="2.5" y="78" width="33.5" height="1.6"/></g><g fill="#888"><rect x="2.5" y="81.2" width="17.5" height="1.1"/></g><g fill="#6e6e6e"><rect x="2.5" y="84" width="40.5" height="1.2"/><rect x="2.5" y="86.8" width="40.5" height="1.2"/><rect x="2.5" y="89.6" width="40.5" height="1.2"/></g><g fill="#c8c8c8"><rect x="3" y="94" width="12" height="1.2"/></g><g fill="#666"><rect x="24" y="93.7" width="2.5" height="1.5"/><rect x="28" y="94" width="2" height="1.5"/><rect x="32" y="93.7" width="2.5" height="1.5"/><rect x="36" y="94" width="2" height="1.5"/><rect x="40" y="93.7" width="2.5" height="1.5"/></g><rect x="14.5" y="98.3" width="16" height="0.8" fill="#cfcfcf" rx="0.4"/></svg>
<svg x="196.4" y="371.8" width="44.2" height="99.8" viewBox="0 0 44.2 99.8"><rect x="0" y="0" width="44.2" height="99.8" fill="#fff"/><defs><linearGradient id="gm1" x1="0" y1="0" x2="1" y2="1"><stop offset="0" stop-color="#edf2f7"/><stop offset="1" stop-color="#d3e0ec"/></linearGradient></defs><rect x="0" y="0" width="44.2" height="34.6" fill="url(#gm1)"/><g fill="#1f3f80"><rect x="3" y="1.6" width="9" height="2"/></g><rect x="19.6" y="1.4" width="5" height="1.8" fill="#e8405a" rx="0.9"/><g fill="#333"><rect x="36" y="1.9" width="2.5" height="1.1"/><rect x="39.5" y="1.9" width="3" height="1.1"/></g><circle cx="3.5" cy="6.5" r="1" fill="#9ab"/><g fill="#2b4162"><rect x="5" y="6" width="10" height="2"/><rect x="5" y="9.4" width="12.5" height="2"/></g><g fill="#9db2c8"><rect x="5" y="13.4" width="6" height="1"/></g><g fill="#8fb0d4"><rect x="5.5" y="17.4" width="8" height="1.6"/><rect x="5.5" y="20.6" width="8" height="1.6"/><rect x="5.5" y="23.8" width="8" height="1.6"/></g><rect x="30.4" y="3.5" width="4" height="7" fill="#3c3c42"/><rect x="31.6" y="10.5" width="1.6" height="2.5" fill="#55555c"/><rect x="28.4" y="12.5" width="8.2" height="18.5" fill="#6d5845" rx="1.5"/><rect x="29.4" y="16.5" width="6.2" height="10.5" fill="#d9d9db"/><rect x="27.2" y="30.4" width="10.8" height="2.2" fill="#45454a"/><polygon points="27,6 30.4,4 30.4,7" fill="#77808a"/><rect x="2.2" y="36.6" width="17.4" height="2.8" fill="#fff"/><g fill="#35303a"><rect x="3" y="37.2" width="15.5" height="1.7"/></g><rect x="1.6" y="43.4" width="41" height="11.2" fill="#f1f2f3"/><g fill="#e0e2e6"><rect x="3" y="46" width="23" height="1.4"/><rect x="3" y="49.2" width="19" height="1.4"/></g><g fill="#d5d7db"><rect x="34" y="50" width="6" height="1.6"/></g><g fill="#333"><rect x="2.4" y="56.4" width="5" height="1.8"/></g><g fill="#999"><rect x="32" y="56.8" width="3" height="1"/><rect x="37" y="56.8" width="5" height="1"/></g><rect x="0.8" y="60.4" width="21.6" height="30.2" fill="#22396b"/><polygon points="10,68 17,66 21,72 19,80 11,82 7,76" fill="#dc9646"/><ellipse cx="6.5" cy="80" rx="4.5" ry="5" fill="#a9b9c9"/><ellipse cx="14" cy="74" rx="3" ry="3" fill="#efb76b"/><g fill="#fff"><rect x="2.4" y="64.6" width="1.8" height="1.6"/></g><g fill="#f1d36b"><rect x="5.4" y="64.4" width="7.2" height="2"/></g><rect x="0.8" y="84" width="21.6" height="6.6" fill="#2f558f"/><rect x="23.4" y="60.4" width="20.4" height="30.2" fill="#cac6c2"/><g fill="#e3cb74"><rect x="26" y="61.4" width="12" height="4"/></g><g fill="#a9a5a1"><rect x="25" y="66.4" width="1" height="22"/><rect x="28" y="66.4" width="1" height="22"/><rect x="40" y="66.4" width="1" height="22"/><rect x="42.4" y="66.4" width="1" height="22"/></g><circle cx="35" cy="72.4" r="4" fill="#ebcdb7"/><ellipse cx="35" cy="69.8" rx="4.2" ry="2.2" fill="#4a3a30"/><polygon points="29,79 34,76.4 40,78 41.6,90.6 28,90.6" fill="#e9e3e3"/><polygon points="29.6,84 40,83 41,90.6 29,90.6" fill="#e2a2ac"/><g fill="#555"><rect x="1.6" y="92.2" width="18.4" height="1.4"/><rect x="1.6" y="94.8" width="10.4" height="1.4"/><rect x="24.2" y="92.2" width="17.8" height="1.4"/><rect x="24.2" y="94.8" width="5.8" height="1.4"/></g><circle cx="2.4" cy="98" r="0.9" fill="#444"/><g fill="#aaa"><rect x="5" y="97.6" width="3" height="0.9"/><rect x="37" y="97.6" width="4" height="0.9"/></g><g fill="#777"><rect x="15" y="98.2" width="16" height="0.9"/></g></svg>
<svg x="365" y="369" width="46" height="100.2" viewBox="0 0 46 100.2"><rect x="0" y="0" width="46" height="100.2" fill="#fff"/><rect x="0" y="0" width="46" height="27.9" fill="#3d3d3d"/><rect x="20.6" y="1.4" width="5.2" height="1.8" fill="#e8405a" rx="0.9"/><g fill="#bbb"><rect x="3.5" y="1.9" width="4.5" height="1.1"/><rect x="36" y="1.9" width="2.5" height="1.1"/><rect x="39.5" y="1.9" width="3.5" height="1.1"/></g><g fill="#999"><rect x="3.4" y="8.4" width="1" height="1.4"/></g><rect x="2.8" y="17.8" width="7.8" height="7.8" fill="#f4f4f4"/><rect x="4.6" y="19.6" width="4.2" height="4.2" fill="#fff" stroke="#ddd" stroke-width="0.4"/><g fill="#f0f0f0"><rect x="12.4" y="18.6" width="4" height="1.8"/></g><g fill="#8a8a8a"><rect x="12.4" y="22" width="3.2" height="0.9"/><rect x="12.4" y="25" width="6" height="0.9"/></g><rect x="36.2" y="23" width="8.2" height="3.2" fill="#ededed" rx="0.6"/><g fill="#777"><rect x="38" y="24.1" width="4.6" height="0.9"/></g><g fill="#555"><rect x="10.4" y="29.6" width="2.6" height="1.7"/></g><g fill="#bbb"><rect x="17.6" y="30" width="3.4" height="1.1"/><rect x="25.4" y="30" width="3" height="1.1"/><rect x="32.6" y="30" width="4.4" height="1.1"/></g><g fill="#e0506a"><rect x="10.4" y="32" width="2.6" height="0.5"/></g><g fill="#555"><rect x="2.6" y="35.8" width="3" height="1.5"/></g><rect x="1.1" y="40.3" width="22.1" height="29.5" fill="#c58a72"/><rect x="1.1" y="40.3" width="7.5" height="29.5" fill="#ad6a4e"/><rect x="12.4" y="40.3" width="10.8" height="29.5" fill="#ead5d5"/><rect x="15.6" y="40.3" width="2" height="29.5" fill="#dcc1c1"/><rect x="20.6" y="52" width="2.6" height="17.8" fill="#b8806c"/><polygon points="8.6,52.4 10.6,49.6 12.2,52 13,69.8 7.4,69.8" fill="#4a2c24"/><g fill="#4a4a4a"><rect x="2.6" y="71.6" width="18.8" height="1.4"/><rect x="2.6" y="74.2" width="10.8" height="1.4"/></g><circle cx="3.6" cy="79.2" r="1.6" fill="#4c4450"/><g fill="#888"><rect x="6.4" y="78.8" width="1.6" height="1"/></g><g fill="#ccc"><rect x="19" y="78.8" width="3" height="0.9"/></g><g fill="#555"><rect x="2.6" y="86.4" width="3" height="1.5"/></g><rect x="16.3" y="89.6" width="14.1" height="5.2" fill="#e9404f" rx="2.6"/><g fill="#f6b4ba"><rect x="20.6" y="91.8" width="5.8" height="0.9"/></g><rect x="15" y="98.5" width="16" height="0.8" fill="#cfcfcf" rx="0.4"/></svg>
<svg x="554.2" y="369" width="44.8" height="100.2" viewBox="0 0 44.8 100.2"><rect x="0" y="0" width="44.8" height="100.2" fill="#fff"/><defs><radialGradient id="gm3" cx="0.5" cy="0.25" r="0.7"><stop offset="0" stop-color="#35607a"/><stop offset="1" stop-color="#19303f"/></radialGradient></defs><rect x="0" y="0" width="44.8" height="39.6" fill="url(#gm3)"/><rect x="19.8" y="1.3" width="5.2" height="1.9" fill="#e8405a" rx="0.9"/><g fill="#ccd"><rect x="3.5" y="1.9" width="4.5" height="1.1"/><rect x="36" y="1.9" width="2.5" height="1.1"/><rect x="39.5" y="1.9" width="3" height="1.1"/></g><g fill="#ccd"><rect x="2.6" y="7.6" width="1" height="1.4"/></g><circle cx="6.4" cy="16.2" r="4.3" fill="#f1f5f9"/><g fill="#9fb3c3"><rect x="4.6" y="15.4" width="3.6" height="1.4"/></g><g fill="#f4f7fa"><rect x="12.4" y="14.2" width="11.2" height="2"/></g><circle cx="25.4" cy="15.2" r="1" fill="#6fb0e8"/><g fill="#7f99aa"><rect x="12.4" y="18.6" width="15.6" height="1"/></g><g fill="#b5c5d0"><rect x="2.6" y="23.2" width="9.8" height="1.2"/></g><g fill="#e9eef2"><rect x="3" y="27.4" width="1.6" height="1.2"/><rect x="7" y="27.4" width="2.4" height="1.2"/><rect x="12" y="27.4" width="4.6" height="1.2"/></g><g fill="#8ba0ae"><rect x="2.6" y="29.8" width="2.2" height="0.9"/><rect x="6.6" y="29.8" width="3" height="0.9"/><rect x="11.6" y="29.8" width="5.4" height="0.9"/></g><rect x="27.8" y="27" width="9.6" height="3.2" fill="#e0304a" rx="0.6"/><rect x="39" y="27" width="4" height="3.2" fill="#3a5668" rx="0.6"/><rect x="0" y="33.2" width="44.8" height="6.4" fill="#23465c"/><g fill="#d9e3ea"><rect x="19.6" y="35.6" width="5.8" height="1.3"/></g><rect x="0" y="39.6" width="44.8" height="5.8" fill="#f7f8f9"/><g fill="#333"><rect x="8" y="41.6" width="3" height="1.8"/></g><g fill="#c4c8cc"><rect x="17.4" y="41.9" width="3" height="1.2"/><rect x="26" y="41.9" width="3" height="1.2"/><rect x="34.6" y="41.9" width="3.4" height="1.2"/></g><rect x="1.2" y="45.8" width="20.1" height="27.6" fill="#fff" stroke="#c3d5e8" stroke-width="1.1"/><g fill="#4d5a4a"><rect x="4.2" y="49.4" width="14" height="1.8"/></g><g fill="#a9b88a"><rect x="9.2" y="52.6" width="5" height="1"/></g><rect x="4.2" y="55.3" width="2.4" height="2" fill="#cdd545"/><g fill="#48484e"><rect x="8" y="55.6" width="7.2" height="1.3"/></g><rect x="4.2" y="58.5" width="2.4" height="2" fill="#cdd545"/><g fill="#48484e"><rect x="8" y="58.8" width="10.2" height="1.3"/></g><rect x="4.2" y="61.7" width="2.4" height="2" fill="#cdd545"/><g fill="#48484e"><rect x="8" y="62" width="8.2" height="1.3"/></g><rect x="4.2" y="64.9" width="2.4" height="2" fill="#cdd545"/><g fill="#48484e"><rect x="8" y="65.2" width="11.2" height="1.3"/></g><rect x="4.2" y="68.1" width="2.4" height="2" fill="#cdd545"/><g fill="#48484e"><rect x="8" y="68.4" width="6.2" height="1.3"/></g><g fill="#cfd6de"><rect x="10.2" y="71.4" width="4" height="0.8"/></g><rect x="23.4" y="45.8" width="20.8" height="27.6" fill="#fff" stroke="#c3d5e8" stroke-width="1.1"/><g fill="#4d5a4a"><rect x="26.4" y="49.4" width="14" height="1.8"/></g><g fill="#a9b88a"><rect x="31.4" y="52.6" width="5" height="1"/></g><rect x="26.4" y="55.3" width="2.4" height="2" fill="#cdd545"/><g fill="#48484e"><rect x="30.2" y="55.6" width="7.2" height="1.3"/></g><rect x="26.4" y="58.5" width="2.4" height="2" fill="#cdd545"/><g fill="#48484e"><rect x="30.2" y="58.8" width="10.2" height="1.3"/></g><rect x="26.4" y="61.7" width="2.4" height="2" fill="#cdd545"/><g fill="#48484e"><rect x="30.2" y="62" width="8.2" height="1.3"/></g><rect x="26.4" y="64.9" width="2.4" height="2" fill="#cdd545"/><g fill="#48484e"><rect x="30.2" y="65.2" width="11.2" height="1.3"/></g><rect x="26.4" y="68.1" width="2.4" height="2" fill="#cdd545"/><g fill="#48484e"><rect x="30.2" y="68.4" width="6.2" height="1.3"/></g><g fill="#cfd6de"><rect x="32.4" y="71.4" width="4" height="0.8"/></g><g fill="#5a6470"><rect x="2.4" y="76" width="17.2" height="1.4"/><rect x="2.4" y="78.8" width="4.6" height="1.4"/><rect x="24.2" y="76" width="18.8" height="1.4"/><rect x="24.2" y="78.8" width="8.8" height="1.4"/></g><g fill="#d0d4d8"><rect x="3" y="82.4" width="6" height="0.9"/><rect x="25" y="82.4" width="6" height="0.9"/></g><rect x="1.2" y="85.2" width="20.4" height="15" fill="#ecd4b4"/><g fill="#3c2b1c"><rect x="4" y="89.6" width="14.4" height="2.4"/></g><path d="M3.4,100.2 V97.6 Q5.6,94.6 7.8,97.6 V100.2 Z" fill="#a97b45"/><path d="M9.4,100.2 V97.6 Q11.6,94.6 13.8,97.6 V100.2 Z" fill="#a97b45"/><path d="M15.4,100.2 V97.6 Q17.6,94.6 19.8,97.6 V100.2 Z" fill="#a97b45"/><rect x="22.8" y="85.2" width="22" height="15" fill="#7b736b"/><ellipse cx="33.6" cy="94.4" rx="6.4" ry="4.2" fill="#e6e2de"/><ellipse cx="31" cy="90" rx="3" ry="2" fill="#4a443e"/><ellipse cx="39" cy="97" rx="3" ry="2.4" fill="#c9c1b7"/></svg>
<svg x="717" y="369" width="45.2" height="100.2" viewBox="0 0 45.2 100.2"><rect x="0" y="0" width="45.2" height="100.2" fill="#fff"/><rect x="20" y="1.2" width="5.2" height="2.2" fill="#e8304a" rx="0.9"/><g fill="#333"><rect x="3.5" y="1.9" width="4.5" height="1.3"/><rect x="36" y="1.9" width="3" height="1.3"/><rect x="40" y="1.7" width="3" height="1.3"/></g><g fill="#aaa"><rect x="2.6" y="7.8" width="1" height="1.4"/><rect x="41.6" y="7.8" width="1" height="1.4"/></g><rect x="11.1" y="11.8" width="23.1" height="21.5" fill="#1f8b80"/><rect x="11.6" y="12.2" width="4.8" height="1.4" fill="#0f5f58"/><rect x="15.8" y="23.6" width="3.8" height="8.6" fill="#f2f2f2" rx="0.6"/><polygon points="17,23.6 17.3,18.8 18.1,18.8 18.4,23.6" fill="#e8e8e8"/><polygon points="13,27.6 17.4,18 18,18.4 14,28" fill="#d9efe9"/><rect x="15.8" y="29.4" width="3.8" height="2.8" fill="#c23a3a"/><g fill="#d7efeb"><rect x="22.4" y="15" width="10.6" height="1.6"/></g><rect x="24" y="19.6" width="9.2" height="2.6" fill="#bfe6e0" rx="0.6"/><rect x="24" y="24.4" width="9.2" height="2.6" fill="#bfe6e0" rx="0.6"/><rect x="24" y="29.2" width="9.2" height="2.4" fill="#bfe6e0" rx="0.6"/><g fill="#a9d9d3"><rect x="11.6" y="34.4" width="22.2" height="0.7"/></g><g fill="#2e2e34"><rect x="2.4" y="39" width="3.6" height="2"/><rect x="7" y="39" width="16" height="2"/></g><g fill="#bbb"><rect x="3" y="47.2" width="1" height="1.3"/></g><g fill="#666"><rect x="5" y="47" width="7" height="1.6"/></g><g fill="#ccc"><rect x="3" y="53.2" width="1" height="1.3"/></g><g fill="#999"><rect x="6" y="53.2" width="3" height="1.4"/><rect x="10.6" y="53.2" width="3.4" height="1.4"/></g><g fill="#777"><rect x="3" y="59.2" width="1.4" height="1.4"/><rect x="6.6" y="59.2" width="4" height="1.4"/></g><circle cx="37" cy="59.8" r="1.1" fill="#d5d5d5"/><circle cx="41.2" cy="59.8" r="1.1" fill="#ddd"/><g fill="#333"><rect x="2.4" y="68.2" width="2" height="1.8"/><rect x="5.4" y="68.2" width="2.4" height="1.8"/></g><g fill="#aaa"><rect x="18.4" y="68.6" width="2.6" height="1.2"/><rect x="25.4" y="68.6" width="3" height="1.2"/><rect x="32" y="68.6" width="2.6" height="1.2"/><rect x="39" y="68.6" width="4.6" height="1.2"/></g><g fill="#666"><rect x="4" y="74.6" width="2.4" height="1.6"/></g><g fill="#c4c4c4"><rect x="11.6" y="74.8" width="2.4" height="1.2"/><rect x="18.4" y="74.8" width="2.6" height="1.2"/><rect x="26" y="74.8" width="2" height="1.2"/><rect x="32.6" y="74.8" width="4.4" height="1.2"/><rect x="41.4" y="74.8" width="2.6" height="1.2"/></g><rect x="1.1" y="79.2" width="20.7" height="11" fill="#a9a599"/><rect x="15" y="79.2" width="6.8" height="6.8" fill="#d3d1cb"/><ellipse cx="8" cy="86" rx="1.2" ry="3" fill="#e6e4e0"/><rect x="1.1" y="79.2" width="20.7" height="2.2" fill="#95918a"/><rect x="23.1" y="79.2" width="21.8" height="11" fill="#2f2822"/><polygon points="28,90.2 33,83 40,81.4 43,84 41,90.2" fill="#e9e1d9"/><polygon points="36,84.4 41,82.6 42,86 38,88" fill="#fff"/><g fill="#999"><rect x="8.4" y="94.8" width="6" height="1.2"/><rect x="30.4" y="94.8" width="7" height="1.2"/></g><rect x="14.6" y="98.5" width="16" height="0.8" fill="#cfcfcf" rx="0.4"/></svg>
<svg x="1005.8" y="369.7" width="45.4" height="100.5" viewBox="0 0 45.4 100.5"><rect x="0" y="0" width="45.4" height="100.5" fill="#fff"/><rect x="2.3" y="1.4" width="6.7" height="2.9" fill="#3f62c4"/><rect x="19.6" y="1.4" width="5.6" height="2" fill="#e8405a" rx="0.9"/><g fill="#444"><rect x="36" y="2" width="2.6" height="1.2"/><rect x="39.6" y="2" width="3.4" height="1.2"/></g><g fill="#aaa"><rect x="2.4" y="8" width="1" height="1.4"/></g><rect x="41" y="7.4" width="2.2" height="2.2" fill="none" stroke="#999" stroke-width="0.5"/><g fill="#999"><rect x="2.4" y="12.2" width="1.6" height="1.4"/></g><g fill="#8a8a90"><rect x="4.6" y="12" width="5.4" height="1.8"/></g><g fill="#7d9a86"><rect x="10.6" y="12" width="13.8" height="1.9"/></g><g fill="#ccc"><rect x="2.4" y="16.4" width="6" height="1"/></g><g fill="#555"><rect x="37.4" y="16.2" width="5" height="1.5"/></g><g fill="#333"><rect x="2.4" y="20.4" width="2.6" height="1.8"/></g><g fill="#ccc"><rect x="7" y="20.6" width="3" height="1.2"/></g><rect x="0.7" y="26.3" width="21.6" height="30" fill="#f5f1f1"/><g fill="#bbb"><rect x="1.6" y="27.6" width="1.8" height="1.6"/></g><g fill="#1c1c1c"><rect x="4.4" y="27.4" width="3.6" height="2"/></g><g fill="#5a5a66"><rect x="10" y="30.6" width="10.4" height="1.6"/></g><g transform="rotate(28 10 45)"><rect x="7" y="38.4" width="6" height="15.6" fill="#dbb3aa" rx="2"/><rect x="8.4" y="33.6" width="3.2" height="5.2" fill="#e9d9d3" rx="1"/><rect x="7" y="43" width="6" height="6" fill="#eacfc8"/></g><ellipse cx="11.4" cy="40" rx="2.6" ry="1.6" fill="#cfa39b"/><g fill="#666"><rect x="1.6" y="57.8" width="13.4" height="1.3"/></g><circle cx="2.2" cy="61.6" r="0.8" fill="#555"/><g fill="#bbb"><rect x="3.8" y="61.2" width="3.2" height="0.9"/></g><g fill="#ccc"><rect x="18.4" y="61.2" width="2.6" height="0.9"/></g><rect x="22.9" y="25.9" width="22.3" height="20.1" fill="#b3c6da"/><rect x="22.9" y="25.9" width="5.5" height="20.1" fill="#d9dde1"/><rect x="36.6" y="25.9" width="8.6" height="20.1" fill="#a7c2de"/><g transform="rotate(12 32 36)"><rect x="28.8" y="29.4" width="6.2" height="15.2" fill="#8b7139" rx="1.2"/><rect x="30.2" y="26" width="3.4" height="4" fill="#2e2a22"/><rect x="29.6" y="41.4" width="4.6" height="3.2" fill="#5a4822"/></g><g fill="#777"><rect x="23.8" y="47.8" width="18.2" height="1.4"/></g><g fill="#999"><rect x="23.8" y="51" width="3.2" height="1.2"/></g><g fill="#ccc"><rect x="41" y="52.6" width="2" height="0.9"/></g><circle cx="24.4" cy="54.4" r="0.7" fill="#888"/><rect x="22.9" y="56.3" width="22.3" height="30.1" fill="#f6f6f6"/><rect x="23.9" y="57.4" width="20.4" height="27.8" fill="#322a2a"/><g fill="#8a8484"><rect x="25" y="58.2" width="5" height="1"/><rect x="37.4" y="58.2" width="5.2" height="1"/></g><g transform="rotate(20 32 70)"><rect x="28.4" y="62" width="7.2" height="16.6" fill="#dedada" rx="0.8"/><g fill="#b9b5b5"><rect x="29.6" y="66" width="4.8" height="0.8"/><rect x="29.6" y="69" width="4.8" height="0.8"/><rect x="29.6" y="72" width="4.8" height="0.8"/></g></g><ellipse cx="39.4" cy="73.4" rx="2.8" ry="4.6" fill="#151111"/><rect x="38.4" y="66" width="2" height="3.6" fill="#1a1616"/><circle cx="26.6" cy="82.6" r="1.2" fill="#0f0f0f"/><g fill="#e6e2e2"><rect x="33" y="81.4" width="10.4" height="2.4"/></g><g fill="#a9bfd6"><rect x="26.4" y="87.8" width="6.6" height="1.3"/><rect x="36" y="87.8" width="8.4" height="1.3"/></g><rect x="0.7" y="64.3" width="21.6" height="26.1" fill="#cbcbc3"/><rect x="0.7" y="64.3" width="21.6" height="7.7" fill="#d9d9d1"/><path d="M3,70 Q10,63.6 17.4,69.6 L17,71.2 Q10,66.4 3.4,71.4 Z" fill="#9d9f7c"/><polygon points="14.4,70 22.3,68 22.3,88 17,90.4 14,84" fill="#e9c9ba"/><polygon points="0.7,80 6,78 8.4,90.4 0.7,90.4" fill="#e3c3b4"/><rect x="7.6" y="77.4" width="7.8" height="12.8" fill="#3b3b49" rx="1.4"/><rect x="9.4" y="73.6" width="4.2" height="4" fill="#2a2a32"/><rect x="8.6" y="81.4" width="5.8" height="6.2" fill="#a5a5b7"/><g fill="#555"><rect x="1.6" y="92" width="6.4" height="1.4"/></g><circle cx="2.2" cy="96.8" r="0.8" fill="#444"/><g fill="#bbb"><rect x="4" y="96.4" width="2" height="0.9"/></g><rect x="16.9" y="91.6" width="12.1" height="4.6" fill="#e83a50" rx="2.3"/><g fill="#f9c1c7"><rect x="19.6" y="93.5" width="6.8" height="0.9"/></g><defs><linearGradient id="gm5" x1="0" y1="0" x2="1" y2="0"><stop offset="0" stop-color="#dde6ee"/><stop offset="1" stop-color="#7fa8d2"/></linearGradient></defs><rect x="15" y="97.7" width="29.6" height="1.9" fill="url(#gm5)"/><g fill="#ccc"><rect x="41.6" y="94.4" width="1.8" height="1"/></g></svg>
<svg x="552" y="580.8" width="45" height="100.3" viewBox="0 0 45 100.3"><rect x="0" y="0" width="45" height="100.3" fill="#fff"/><defs><radialGradient id="gb1" cx="0.55" cy="0.3" r="0.6"><stop offset="0" stop-color="#3a6b86"/><stop offset="1" stop-color="#182c3c"/></radialGradient></defs><rect x="0" y="0" width="45" height="15.8" fill="url(#gb1)"/><rect x="20" y="1.3" width="5.2" height="1.9" fill="#e8405a" rx="0.9"/><g fill="#dde"><rect x="3.5" y="1.9" width="4.5" height="1.1"/><rect x="36" y="1.9" width="2.5" height="1.1"/><rect x="39.5" y="1.9" width="3" height="1.1"/></g><g fill="#ccd"><rect x="2.6" y="9.4" width="1" height="1.4"/></g><g fill="#cfdbe4"><rect x="6.4" y="8.2" width="12.6" height="1.3"/></g><g fill="#f2f6f9"><rect x="11" y="10.8" width="8" height="1.7"/></g><g fill="#a9bccb"><rect x="33.6" y="9.6" width="5" height="1.3"/></g><g fill="#9a9a9a"><rect x="3.6" y="17.4" width="2.4" height="1.4"/><rect x="19" y="17.4" width="2.6" height="1.4"/><rect x="33" y="17.4" width="4.4" height="1.4"/><rect x="40.4" y="17.4" width="2.2" height="1.4"/></g><g fill="#555"><rect x="10.4" y="17" width="4" height="2"/></g><g fill="#555"><rect x="5" y="22.8" width="2" height="1.8"/></g><g fill="#aaa"><rect x="16" y="23" width="2.4" height="1.4"/><rect x="27" y="23" width="2.4" height="1.4"/></g><g fill="#e3d9b9"><rect x="37.6" y="23" width="4.4" height="1.4"/></g><rect x="1.3" y="27.4" width="20.7" height="22.8" fill="#dde9f5"/><g fill="#222"><rect x="2.2" y="28" width="3.8" height="1.5"/></g><g fill="#1e2e4e"><rect x="2.4" y="31" width="9" height="2.2"/><rect x="2.4" y="34.4" width="9" height="2.2"/></g><rect x="3" y="38.8" width="6" height="6.2" fill="#f7fafd" stroke="#9fb4cc" stroke-width="0.4"/><rect x="14" y="30.4" width="2.2" height="17" fill="#7f8fa3"/><rect x="17.4" y="36" width="1.6" height="11.4" fill="#8fa0b4"/><rect x="16" y="33" width="4" height="1.4" fill="#5f7088"/><rect x="18.6" y="30.6" width="3" height="1.4" fill="#a9b9c9"/><circle cx="3.6" cy="47.4" r="1.9" fill="#e9dfc1"/><rect x="7" y="47.4" width="15" height="2.8" fill="#35567c"/><rect x="23.3" y="27.4" width="20.7" height="22.8" fill="#fafafa"/><g fill="#222"><rect x="24" y="28" width="4" height="1.5"/></g><g fill="#b3b3b3"><rect x="25" y="30.4" width="18" height="1"/><rect x="25" y="33" width="18" height="1"/></g><rect x="29.6" y="36.8" width="2.2" height="10.6" fill="#1d1d1f"/><rect x="32.4" y="36.8" width="2.2" height="10.6" fill="#2a2a2c"/><rect x="37" y="41.6" width="2" height="5.8" fill="#3a3a3c"/><rect x="40" y="43" width="2.4" height="4.4" fill="#1d1d1f"/><g fill="#ddd"><rect x="27" y="48.4" width="17" height="0.7"/></g><g fill="#4c4c52"><rect x="2.2" y="52" width="19.2" height="1.6"/><rect x="2.2" y="55.2" width="4.8" height="1.6"/><rect x="8" y="55.2" width="9.4" height="1.6"/><rect x="24.2" y="52" width="18.8" height="1.6"/><rect x="24.2" y="55.2" width="16.2" height="1.6"/></g><g fill="#e9c0c0"><rect x="2.2" y="58" width="2.8" height="0.9"/></g><g fill="#e0485c"><rect x="2.2" y="60.4" width="6.2" height="1.5"/><rect x="24.2" y="60.4" width="6.2" height="1.5"/></g><g fill="#f1b9bf"><rect x="9.4" y="60.8" width="6.6" height="0.8"/><rect x="31.4" y="60.8" width="6.6" height="0.8"/></g><g fill="#e0c0c0"><rect x="19.4" y="60.2" width="0.8" height="1.6"/><rect x="41.6" y="60.2" width="0.8" height="1.6"/></g><rect x="1.3" y="64.6" width="20.7" height="20" fill="#e2e9f1"/><g fill="#222"><rect x="2.2" y="65.2" width="3.8" height="1.5"/></g><g fill="#9fa9b9"><rect x="2.4" y="69.2" width="7" height="1.2"/><rect x="2.4" y="72" width="5.6" height="1.2"/></g><polygon points="1.3,84.6 1.3,78 10,72 14,84.6" fill="#cfdceb"/><rect x="13.6" y="70.4" width="6.2" height="13" fill="#dfe3ea" rx="0.8"/><rect x="14.6" y="72" width="4.2" height="10" fill="#eef1f5"/><rect x="15.4" y="66" width="2.6" height="4.6" fill="#2c2c30"/><rect x="23.3" y="64.6" width="20.7" height="20" fill="#f4f7f4"/><g fill="#222"><rect x="24" y="65.2" width="5" height="1.5"/></g><g fill="#2a3c4c"><rect x="24.4" y="69" width="7" height="2.2"/><rect x="24.4" y="72.4" width="7" height="2.2"/></g><g fill="#c4d4cc"><rect x="24.4" y="76.4" width="6.6" height="1"/><rect x="24.4" y="78.8" width="6.6" height="1"/><rect x="24.4" y="81.2" width="6.6" height="1"/></g><circle cx="37.6" cy="71.6" r="4.2" fill="#86c873"/><circle cx="38.6" cy="70.6" r="2" fill="#a9dc97"/><rect x="35" y="76.4" width="2.4" height="7.2" fill="#4f5566"/><rect x="38.2" y="76.4" width="2.8" height="7.2" fill="#5a6072"/><g fill="#dfe3ea"><rect x="35" y="78.6" width="6" height="0.8"/></g><g fill="#4c4c52"><rect x="2.2" y="86.8" width="17.8" height="1.6"/><rect x="2.2" y="90" width="5.2" height="1.6"/><rect x="24.2" y="86.8" width="18.4" height="1.6"/><rect x="24.2" y="90" width="5.2" height="1.6"/></g><g fill="#e3c7c7"><rect x="3" y="93.4" width="4" height="0.9"/><rect x="25" y="93.4" width="4" height="0.9"/></g><circle cx="41.7" cy="92" r="2.1" fill="#1f1f1f"/><circle cx="41.7" cy="92" r="0.8" fill="#999"/><g fill="#bbb"><rect x="4" y="96.4" width="2" height="1.3"/><rect x="19" y="96.4" width="2" height="1.3"/><rect x="27.4" y="96.4" width="2" height="1.3"/><rect x="40.4" y="96.4" width="1.6" height="1.3"/></g><g fill="#aab8cc"><rect x="15" y="98.6" width="15" height="0.9"/></g></svg>
<svg x="720" y="580.4" width="45.4" height="100.5" viewBox="0 0 45.4 100.5"><rect x="0" y="0" width="45.4" height="100.5" fill="#fff"/><defs><linearGradient id="gb2" x1="0" y1="0" x2="1" y2="1"><stop offset="0" stop-color="#eef3f8"/><stop offset="1" stop-color="#d5e2ef"/></linearGradient></defs><rect x="0" y="0" width="45.4" height="40.2" fill="url(#gb2)"/><g fill="#1c2e50"><rect x="3" y="2.8" width="7.6" height="2.6"/></g><g fill="#6a7a9a"><rect x="12" y="3.4" width="2" height="1.3"/><rect x="15" y="3.4" width="1" height="1.3"/></g><rect x="20.6" y="1.4" width="5.4" height="2" fill="#e8405a" rx="0.9"/><circle cx="3.4" cy="7.8" r="0.9" fill="#5f7da9"/><circle cx="40" cy="7.6" r="4" fill="#ead78a"/><g fill="#8a7a3a"><rect x="38" y="6" width="4" height="1.2"/><rect x="38.4" y="8.4" width="3.2" height="1.2"/></g><g fill="#2b3a5c"><rect x="4" y="11.2" width="13" height="3.4"/><rect x="4" y="16" width="13" height="3.4"/></g><circle cx="4.6" cy="24.8" r="0.9" fill="#3c5a8c"/><g fill="#3f5c90"><rect x="6.4" y="24" width="10.6" height="1.6"/></g><circle cx="4.6" cy="28.8" r="0.9" fill="#3c5a8c"/><g fill="#3f5c90"><rect x="6.4" y="28" width="10.6" height="1.6"/></g><circle cx="4.6" cy="32.8" r="0.9" fill="#3c5a8c"/><g fill="#3f5c90"><rect x="6.4" y="32" width="8.6" height="1.6"/></g><rect x="18" y="37" width="27.4" height="3.2" fill="#b9c9d9"/><polygon points="29.6,9.6 37.2,9.6 35.2,38.6 32,38.6" fill="#a3abbb"/><polygon points="29.6,9.6 37.2,9.6 36.8,14 30,14" fill="#c5cbd7"/><rect x="38.4" y="23" width="2.2" height="15.6" fill="#8a9ab2"/><circle cx="41.4" cy="23" r="2.6" fill="#7fa0c9"/><rect x="24" y="14.6" width="2.6" height="7.8" fill="#2d2a2a"/><polygon points="23.4,22.4 27.2,22.4 29.2,26 21.4,26" fill="#6d4424"/><rect x="21.2" y="25.4" width="8.2" height="13.2" fill="#8a5a30" rx="1"/><rect x="22.2" y="27.4" width="6.2" height="7.6" fill="#ebe7e3"/><rect x="21.2" y="36.4" width="8.2" height="2.4" fill="#3b2a1f"/><rect x="0" y="40.2" width="15" height="7.6" fill="#fdf2d5"/><circle cx="1" cy="43" r="2.4" fill="#f4dca0"/><polygon points="13,47.8 15.6,40.2 45.4,40.2 45.4,47.8" fill="#2b527b"/><g fill="#86a6c4"><rect x="18.4" y="43" width="22" height="1.8"/></g><g fill="#d9e6f1"><rect x="29" y="42.6" width="1" height="2.6"/></g><g fill="#1f1a14"><rect x="2.6" y="42.4" width="2.4" height="4.2"/><rect x="5.8" y="42.4" width="2.2" height="4.2"/><rect x="8.8" y="42.4" width="2.2" height="4.2"/></g><rect x="3.6" y="50" width="5.4" height="3" fill="#fff" stroke="#e9909b" stroke-width="0.5"/><rect x="9.6" y="50" width="8.4" height="3" fill="#e25060"/><g fill="#bbb"><rect x="40.6" y="50.2" width="1.2" height="2.2"/></g><g fill="#ccc"><rect x="39.8" y="54" width="2.8" height="1"/></g><circle cx="4.4" cy="57.6" r="0.9" fill="#f0a080"/><g fill="#f2ab90"><rect x="6" y="57" width="4.4" height="1.2"/><rect x="11.4" y="57" width="5" height="1.2"/></g><g fill="#2f2f35"><rect x="3" y="60.4" width="39" height="1.7"/><rect x="3" y="63.6" width="39" height="1.7"/><rect x="3" y="66.8" width="14.4" height="1.7"/></g><g fill="#999"><rect x="3" y="73.2" width="1.6" height="1.3"/></g><g fill="#777"><rect x="7" y="73.2" width="33" height="1.2"/></g><g fill="#999"><rect x="3" y="77.4" width="1.6" height="1.3"/></g><g fill="#888"><rect x="7" y="77.4" width="9" height="1.2"/><rect x="18" y="77.4" width="12" height="1.2"/></g><g fill="#c9c9c9"><rect x="4" y="82.8" width="4" height="1.1"/><rect x="10" y="82.8" width="10" height="1.1"/></g><g fill="#ddd"><rect x="11" y="88.6" width="11" height="0.8"/></g><g fill="#999"><rect x="2.4" y="92.6" width="1.6" height="2"/><rect x="7" y="92.6" width="1.6" height="2"/><rect x="11.6" y="92.6" width="2" height="2"/></g><rect x="16.2" y="91.6" width="12.9" height="4.4" fill="#f2a556" rx="2.1"/><rect x="31.3" y="91.6" width="12.9" height="4.4" fill="#e4465c" rx="2.1"/><g fill="#fbd5a8"><rect x="19.6" y="93.4" width="6" height="0.9"/></g><g fill="#f5b5bf"><rect x="35" y="93.4" width="5.6" height="0.9"/></g><g fill="#a9bbd5"><rect x="15" y="98.8" width="15.4" height="0.9"/></g></svg>
<svg x="937.9" y="581.1" width="44.2" height="99.2" viewBox="0 0 44.2 99.2"><rect x="0" y="0" width="44.2" height="99.2" fill="#fff"/><rect x="19.8" y="1.5" width="5.2" height="2.1" fill="#e8405a" rx="0.9"/><g fill="#555"><rect x="3.5" y="2.2" width="4.1" height="1.1"/><rect x="35.6" y="2.2" width="2.4" height="1.1"/><rect x="39" y="2.2" width="3.4" height="1.1"/></g><g fill="#aaa"><rect x="2.6" y="6.8" width="1" height="1.4"/></g><g fill="#666"><rect x="7.4" y="6.6" width="12.6" height="1.5"/><rect x="21.4" y="6.6" width="14.6" height="1.5"/></g><g fill="#aaa"><rect x="41" y="6.8" width="1.4" height="1.2"/></g><g fill="#9a9a9a"><rect x="4" y="10.2" width="37.4" height="0.7"/></g><g fill="#666"><rect x="4" y="11.6" width="38.6" height="1.3"/></g><g fill="#bbb"><rect x="10" y="13.6" width="26" height="0.7"/></g><rect x="0" y="15.4" width="44.2" height="6.8" fill="#0f0f0f"/><g fill="#888"><rect x="2.4" y="18.4" width="1.6" height="1"/></g><g fill="#b5b5b5"><rect x="16.6" y="18" width="11.8" height="1.5"/></g><g fill="#f0f0f0"><rect x="39.6" y="17.6" width="2" height="2.2"/></g><g fill="#aaa"><rect x="43" y="17.8" width="1.2" height="1.8"/></g><rect x="0" y="22.2" width="44.2" height="41.3" fill="#e7e7e7"/><polygon points="0,22.2 20,22.2 22,38 0,44" fill="#d3d3d5"/><polygon points="38,22.2 44.2,22.2 44.2,30" fill="#d5d5d7"/><g fill="#484848"><rect x="12" y="24.4" width="10" height="1.9"/><rect x="23.4" y="24.4" width="12" height="1.9"/></g><g fill="#c4c4c4"><rect x="3" y="24.8" width="6" height="1.1"/><rect x="38" y="25.6" width="5" height="1.1"/></g><g fill="#666"><rect x="25.6" y="33.8" width="17.4" height="1.3"/></g><g fill="#222"><rect x="23.6" y="37" width="20" height="3.4"/></g><rect x="27" y="42.4" width="13.4" height="3" fill="#111" rx="0.5"/><g fill="#bbb"><rect x="30.6" y="43.5" width="6.4" height="0.8"/></g><rect x="23" y="48" width="21.2" height="15.5" fill="#f0efec"/><path d="M4.4,44 Q11.4,36.6 18.8,44 Z" fill="#e0c58d"/><rect x="1.4" y="43.6" width="20.2" height="19.9" fill="#d9b978"/><rect x="3" y="45.4" width="1.7" height="18.1" fill="#f2e3bb"/><rect x="7.2" y="45.4" width="1.7" height="18.1" fill="#f2e3bb"/><rect x="11.4" y="45.4" width="1.7" height="18.1" fill="#f2e3bb"/><rect x="15.6" y="45.4" width="1.7" height="18.1" fill="#f2e3bb"/><rect x="19.2" y="45.4" width="1.7" height="18.1" fill="#f2e3bb"/><g fill="#c7a25f"><rect x="1.4" y="49" width="20.2" height="1.3"/><rect x="1.4" y="55.4" width="20.2" height="1.3"/></g><rect x="0" y="50" width="1.4" height="13.5" fill="#c9ab73"/><rect x="24.4" y="53.6" width="7.6" height="9.9" fill="#ddc28b"/><path d="M25.6,63.5 V58 Q28.2,54.6 30.8,58 V63.5 Z" fill="#f7f1e2"/><rect x="33" y="50.4" width="3.4" height="13.1" fill="#e3cc99"/><rect x="37.6" y="52.4" width="2.4" height="11.1" fill="#d9bf86"/><rect x="41" y="51" width="2.6" height="12.5" fill="#e7d2a3"/><g fill="#efe5cd"><rect x="24" y="62.4" width="20.2" height="1.1"/></g><g fill="#f0a9b1"><rect x="15.6" y="69.2" width="4.8" height="0.8"/></g><g fill="#666"><rect x="8" y="72.8" width="17" height="1.1"/><rect x="26" y="72.8" width="11" height="1.1"/></g><g fill="#1f1f1f"><rect x="17.4" y="75.6" width="9.6" height="2.4"/></g><g fill="#aaa"><rect x="19.4" y="81.6" width="1.6" height="1"/></g><g fill="#333"><rect x="21.6" y="81" width="3.4" height="2"/></g><g fill="#ccc"><rect x="11" y="86" width="22.4" height="0.8"/></g><g fill="#e0485c"><rect x="1" y="89.6" width="8.4" height="1.2"/><rect x="1" y="92.2" width="5.4" height="1.2"/></g><g fill="#bbb"><rect x="15" y="90" width="5.6" height="1"/><rect x="26.4" y="90" width="5" height="1"/><rect x="37" y="90" width="5.4" height="1"/></g><g fill="#333"><rect x="2.6" y="96.2" width="3.4" height="1.3"/></g><g fill="#aaa"><rect x="11" y="96.4" width="1.4" height="1"/></g><g fill="#999"><rect x="19.6" y="96.4" width="8.4" height="1.1"/></g><rect x="31" y="95" width="13.2" height="4.2" fill="#0f0f0f"/><g fill="#ccc"><rect x="35.6" y="96.6" width="4.8" height="1"/></g></svg>
<svg x="996.6" y="581" width="43.8" height="99.2" viewBox="0 0 43.8 99.2"><rect x="0" y="0" width="43.8" height="99.2" fill="#fff"/><rect x="19.6" y="1.4" width="5.4" height="2.5" fill="#e8304a" rx="1"/><g fill="#555"><rect x="3.5" y="2.2" width="4.1" height="1.1"/><rect x="35.2" y="2.2" width="2.4" height="1.1"/><rect x="38.6" y="2.2" width="3.4" height="1.1"/></g><g fill="#aaa"><rect x="2.6" y="6.8" width="1" height="1.4"/></g><g fill="#4a4a4a"><rect x="7.4" y="6.4" width="10.6" height="1.7"/><rect x="19.4" y="6.4" width="15.2" height="1.7"/></g><g fill="#bbb"><rect x="40.6" y="6.8" width="1.4" height="1.2"/></g><rect x="0" y="10.8" width="43.8" height="30" fill="#2b2b2b"/><rect x="0" y="10.8" width="43.8" height="3.6" fill="#353535"/><rect x="0" y="14.4" width="43.8" height="6.6" fill="#242424"/><g fill="#3f3f3f"><rect x="17" y="17.4" width="10" height="1.3"/></g><g fill="#555"><rect x="38.6" y="17.2" width="1.8" height="1.7"/></g><g fill="#3a3a3a"><rect x="12" y="24.6" width="22" height="1.7"/></g><g fill="#333"><rect x="3" y="25" width="5" height="1"/><rect x="37" y="25" width="4" height="1"/></g><g fill="#484848"><rect x="26" y="34" width="16" height="1.1"/></g><g fill="#3f3f3f"><rect x="23" y="36.8" width="19.6" height="2.6"/></g><g fill="#888"><rect x="40.6" y="42.8" width="1.2" height="1.2"/></g><rect x="3.3" y="44" width="11.1" height="10.2" fill="#e5d2a5"/><polygon points="3.3,44 9,44 3.3,50" fill="#ece9e4"/><rect x="4.4" y="48.6" width="5.2" height="5.6" fill="#d3b36f"/><rect x="10.6" y="50.4" width="3" height="3.8" fill="#c9ae78"/><rect x="3.3" y="44" width="11.1" height="10.2" fill="none" stroke="#ddd" stroke-width="0.4"/><g fill="#555"><rect x="17.4" y="47.4" width="5.6" height="1.5"/></g><g fill="#c9c9c9"><rect x="16.6" y="51" width="7.4" height="1"/></g><rect x="3.6" y="59.8" width="8.4" height="3.2" fill="#fff" stroke="#f1a5ad" stroke-width="0.5"/><g fill="#e0485c"><rect x="5.4" y="61" width="3" height="1"/></g><g fill="#777"><rect x="15.6" y="60.4" width="8.8" height="1.4"/></g><g fill="#bbb"><rect x="25" y="60.8" width="1.4" height="1"/></g><g fill="#333"><rect x="3.6" y="66.2" width="5.4" height="1.5"/></g><g fill="#aaa"><rect x="10.4" y="66.4" width="5.6" height="1"/><rect x="17" y="66.4" width="6.4" height="1"/></g><g fill="#aaa"><rect x="33" y="66.4" width="5.6" height="1"/><rect x="39.4" y="66.4" width="1.6" height="1"/></g><g fill="#333"><rect x="3.6" y="70.4" width="8" height="1.5"/></g><g fill="#666"><rect x="3.6" y="73.2" width="6.4" height="1.3"/><rect x="11" y="73.2" width="5" height="1.3"/><rect x="17" y="73.2" width="5.4" height="1.3"/></g><g fill="#ddd"><rect x="3.6" y="75.8" width="15.4" height="0.8"/></g><g fill="#777"><rect x="3.6" y="80.4" width="5" height="1.4"/></g><g fill="#333"><rect x="3.6" y="83.4" width="5.4" height="3"/></g><g fill="#d0d0d0"><rect x="11" y="84" width="2.6" height="2"/><rect x="15.4" y="84" width="3" height="2"/><rect x="20" y="84" width="3" height="2"/></g><rect x="3.4" y="90.2" width="37.8" height="4.8" fill="#0d0d0d"/><g fill="#999"><rect x="21" y="92.2" width="2.4" height="0.9"/></g><g fill="#ccc"><rect x="14.6" y="98" width="14.8" height="0.8"/></g></svg>
<svg x="1113.1" y="580.8" width="45" height="100.1" viewBox="0 0 45 100.1"><rect x="0" y="0" width="45" height="100.1" fill="#fff"/><defs><linearGradient id="gb5" x1="0" y1="0" x2="1" y2="0"><stop offset="0" stop-color="#8f827b"/><stop offset="0.42" stop-color="#a3928a"/><stop offset="0.6" stop-color="#d6afa7"/><stop offset="1" stop-color="#c9a9a1"/></linearGradient></defs><rect x="0" y="0" width="45" height="40.8" fill="url(#gb5)"/><rect x="0" y="0" width="45" height="11.5" fill="#9d9794"/><rect x="20" y="1.4" width="5.4" height="2.6" fill="#e9697a" rx="1"/><g fill="#6e6a68"><rect x="3.5" y="2.2" width="4.5" height="1.2"/><rect x="36" y="2.2" width="2.5" height="1.2"/><rect x="39.5" y="2.2" width="3" height="1.2"/></g><g fill="#c9c5c3"><rect x="2.6" y="8" width="1" height="1.3"/><rect x="5.6" y="8" width="1.4" height="1.3"/></g><g fill="#7f7b79"><rect x="10" y="8" width="9" height="1.4"/></g><g fill="#b9b5b3"><rect x="35.6" y="7.8" width="2.8" height="1.8"/></g><g fill="#5f5b59"><rect x="41" y="7.6" width="2.4" height="2"/></g><rect x="0" y="11.5" width="9" height="29.3" fill="#a59891"/><rect x="0" y="26" width="5" height="14.8" fill="#8a7c74"/><ellipse cx="8.4" cy="35.6" rx="5" ry="5" fill="#b47b45"/><ellipse cx="8.4" cy="33" rx="4" ry="2" fill="#cfa36f"/><rect x="12" y="20.6" width="10.4" height="16" fill="#5b4a3d" rx="1.2"/><rect x="13" y="23.6" width="8.4" height="9.4" fill="#d9d1c9"/><rect x="13.6" y="17.6" width="7.2" height="3.6" fill="#3a302a"/><ellipse cx="17.2" cy="37" rx="6.4" ry="1.6" fill="#70594a"/><ellipse cx="33" cy="29" rx="5" ry="2.4" fill="#e3a9a1"/><ellipse cx="27" cy="24" rx="3" ry="5" fill="#e5c3bb"/><rect x="2.2" y="43.1" width="10.4" height="10.8" fill="#b4cadb"/><rect x="3.4" y="44" width="2.6" height="2" fill="#3f5f8a"/><rect x="7" y="45.6" width="2" height="7.4" fill="#f2f5f8"/><rect x="9.6" y="47" width="1.8" height="6" fill="#6a86a9"/><g fill="#8aa6c0"><rect x="2.2" y="52.4" width="10.4" height="1.5"/></g><g fill="#4a4a50"><rect x="15" y="43.4" width="26" height="1.5"/><rect x="15" y="46.4" width="25" height="1.5"/></g><g fill="#c9c9c9"><rect x="15" y="50.4" width="7" height="0.9"/></g><g fill="#999"><rect x="15" y="53.2" width="2" height="1.2"/><rect x="18.4" y="53.2" width="16.6" height="1.2"/></g><g fill="#bbb"><rect x="39.6" y="53.2" width="1.4" height="1.2"/></g><g fill="#333"><rect x="2.6" y="59.4" width="2.4" height="1.5"/></g><g fill="#888"><rect x="7.4" y="59.6" width="11.6" height="1.2"/></g><rect x="36.4" y="58.6" width="7" height="2.6" fill="#f5a9b3" rx="0.6"/><g fill="#999"><rect x="2.6" y="65.4" width="4.4" height="1.2"/></g><rect x="2.6" y="68.4" width="33.4" height="3.2" fill="#fff" stroke="#f1b5bd" stroke-width="0.5"/><g fill="#8a8488"><rect x="4" y="69.4" width="29" height="1.2"/></g><rect x="2.6" y="73.4" width="33.4" height="3.2" fill="#fdebed" stroke="#f1a5b1" stroke-width="0.5"/><g fill="#e58a99"><rect x="4" y="74.4" width="28" height="1.2"/></g><g fill="#bbb"><rect x="2.6" y="82.4" width="4.4" height="1.2"/></g><g fill="#d5d5d5"><rect x="33.6" y="82.4" width="1.4" height="1.4"/><rect x="37.6" y="82.4" width="1.4" height="1.4"/><rect x="41.6" y="82.4" width="1.4" height="1.4"/></g><polygon points="2.6,96 3.6,91.4 6,91 5,96" fill="#ea8492"/><rect x="7.5" y="90.2" width="36.7" height="5" fill="#e9485d" rx="2.5"/><rect x="7.5" y="90.2" width="19.5" height="5" fill="#f06a7c" rx="2.5"/><rect x="22" y="90.2" width="5" height="5" fill="#ee6073"/><g fill="#fbd1d7"><rect x="11" y="92.2" width="12" height="0.9"/><rect x="31" y="92.2" width="9" height="0.9"/></g><g fill="#cfcfcf"><rect x="15" y="98.6" width="16" height="0.8"/></g></svg></g>
<g fill="none" stroke="#e6d2ce" stroke-width="1.9"><path d="M573.7,171.5 V116.8 H1223.4 V632.8 H1183.5"/><path d="M923.3,116.8 V172"/><path d="M219.5,315.5 V363.5"/><path d="M388,315.5 V363.5" stroke-dasharray="17 7.5"/><path d="M388,342 H737.5" stroke-dasharray="17 7" stroke-dashoffset="3"/><path d="M739.5,345.5 V363.5"/><path d="M576.2,314 V363.5"/><path d="M576.2,329.6 H750.5 V314"/><path d="M792.5,299.2 H810.2 V632.8 H791.5"/><path d="M927.5,314 V549.4 H810.2"/><path d="M1136.2,316 V571.5"/><path d="M1136.2,548.6 H990 V571.5"/><path d="M389,501.5 V632.8 H528.5"/><path d="M574.5,505 V566.5"/><path d="M741.5,505 V566.5"/><path d="M618,632.8 H697.5"/></g>
<g fill="#e6d2ce" stroke="none"><polygon points="1180,632.8 1185.6,630 1184.4,632.8 1185.6,635.6"/><polygon points="219.5,367 216.7,361.4 219.5,362.6 222.3,361.4"/><polygon points="388,367.5 385.2,361.9 388,363.1 390.8,361.9"/><polygon points="739.5,367.5 736.7,361.9 739.5,363.1 742.3,361.9"/><polygon points="576.2,367.5 573.4,361.9 576.2,363.1 579,361.9"/><polygon points="787.8,632.8 793.4,630 792.2,632.8 793.4,635.6"/><polygon points="1136.2,575.5 1133.4,569.9 1136.2,571.1 1139,569.9"/><polygon points="990,575.5 987.2,569.9 990,571.1 992.8,569.9"/><polygon points="532.3,632.8 526.7,630 527.9,632.8 526.7,635.6"/><polygon points="574.5,570.5 571.7,564.9 574.5,566.1 577.3,564.9"/><polygon points="741.5,570.5 738.7,564.9 741.5,566.1 744.3,564.9"/><polygon points="701.3,632.8 695.7,630 696.9,632.8 695.7,635.6"/></g>
<circle cx="1025.8" cy="355.8" r="3.6" fill="#ecd2ce"/>
<g fill="none" stroke="#c00808"><rect x="310.2" y="211.7" width="28.4" height="15.5" stroke-width="2.4"/><rect x="375.4" y="215.4" width="28.2" height="15" stroke-width="2.4"/><rect x="420.4" y="249.2" width="21.4" height="15.2" stroke-width="2.4"/><rect x="901.3" y="232.5" width="13.3" height="10.5" stroke-width="2.4"/><rect x="1055.2" y="225.2" width="12.8" height="10.4" stroke-width="2.4"/><rect x="1106.4" y="243.8" width="43.2" height="4.8" stroke-width="1.4"/><rect x="197.6" y="406.6" width="19.4" height="6.4" stroke-width="1.2"/><rect x="196.2" y="262.6" width="22.4" height="4.2" stroke-width="1"/></g>
<g fill="#141414" font-family="'Liberation Serif','Noto Serif CJK SC',serif">
<g font-size="24.5" font-weight="bold" fill="#1c2b4d" style="letter-spacing:3.6px">
<text x="19.13" y="37.48">图</text>
<text x="120.64" y="37.48">品牌在小红书平台从种草到拔草</text>
</g>
<g font-size="16" style="letter-spacing:1px">
<text x="492.05" y="99.21">品牌内容营销路径</text>
<text x="637.64" y="99.21">以</text>
<text x="713.03" y="99.21">肌漾为例</text>
<text x="777.39" y="99.21">（</text>
<text x="800.99" y="99.21" style="letter-spacing:0.6px">不含硬广</text>
<text x="871.66" y="99.21">）</text>
<text x="73.60" y="157.96">内容端</text>
<text x="65.60" y="386.86">内容集合</text>
<text x="65.50" y="610.96">交易闭环</text>
<text x="380.60" y="157.71" fill="#f8fbff">用户生产</text>
<text x="714.10" y="157.71" fill="#f8fbff">品牌生产</text>
<text x="934.30" y="157.71" fill="#f8fbff" style="letter-spacing:1.2px">用户生产，品牌投放</text>
<text x="168.50" y="307.56">好物体验笔记</text>
<text x="336.35" y="307.56">用户自发种草</text>
<text x="525.10" y="307.56">商业合作笔记</text>
<text x="716.85" y="307.56">官方笔记</text>
<text x="893.00" y="307.56">赞助笔记</text>
<text x="1010.61" y="307.56">广告笔记</text>
<text x="1077.69" y="307.56">（</text>
<text x="1096.37" y="307.56">图为其他品牌</text>
<text x="1204.61" y="307.56">）</text>
<text x="171.20" y="492.96">好物体验页面</text>
<text x="337.20" y="492.96">品牌标记页面</text>
<text x="535.50" y="492.96">专业号页面</text>
<text x="691.85" y="492.96">商品标记页面</text>
<text x="996.50" y="492.96">话题页面</text>
<text x="556.85" y="712.16">店铺</text>
<text x="711.10" y="711.96">商品页面</text>
<text x="922.37" y="711.46" style="letter-spacing:0.6px">落地页</text>
<text x="975.82" y="711.46">(</text>
<text x="983.76" y="711.46" style="letter-spacing:1.2px">站外商店</text>
<text x="1053.31" y="711.46">)</text>
<text x="1070.67" y="711.46">内容页面购买弹窗</text>
<text x="482.35" y="745.56">商城页面成交</text>
<text x="993.20" y="746.36">内容页面成交</text>
</g>
<g font-size="12.5" style="letter-spacing:0.7px">
<text x="114.58" y="225.90">好物体验标签</text>
<text x="245.68" y="223.90">品牌标记</text>
<text x="340.32" y="224.65">商品标记</text>
<text x="368.07" y="262.15" style="letter-spacing:0.2px">话题标签</text>
<text x="818.58" y="244.65">赞助标记</text>
<text x="993.83" y="247.15">广告标记</text>
<text x="247.70" y="424.65">可再跳转专业号</text>
<text x="1040.08" y="342.15">所有笔记皆可</text>
<text x="1040.08" y="359.15">添加话题标签</text>
<text x="996.83" y="567.15">站外成交</text>
<text x="1080.08" y="567.15">站内成交</text>
</g>
<g font-size="12.5" style="letter-spacing:0.8px">
<text x="1247.94" y="453.25">点开商业合作笔记</text>
<text x="1364.60" y="453.25">秒</text>
<text x="1248.32" y="469.95">后，图片左下角品牌合</text>
<text x="1248.38" y="486.45">作标示消失，部分笔记</text>
<text x="1247.92" y="503.65">此时出现</text>
<text x="1308.75" y="503.65">“</text>
<text x="1314.30" y="503.65">购买同款商</text>
<text x="1247.48" y="520.85">品</text>
<text x="1262.75" y="520.85">”</text>
<text x="1274.52" y="520.85">，</text>
<text x="1287.84" y="520.85">点击会跳出购买</text>
<text x="1247.53" y="537.25">弹窗</text>
<text x="1247.80" y="570.45">购买弹窗可再跳转商品</text>
<text x="1247.54" y="586.55">页面</text>
</g>
</g>
<g font-family="'Liberation Sans','Noto Sans CJK SC',sans-serif" font-size="34" font-weight="bold" style="letter-spacing:0.5px">
<g fill="#000"><text x="1201.00" y="758.50">头条</text><text x="1318.50" y="758.50">认是</text></g>
<g fill="#000"><text x="1200.30" y="757.80">头条</text><text x="1317.80" y="757.80">认是</text></g>
<g fill="#000"><text x="1199.60" y="757.10">头条</text><text x="1317.10" y="757.10">认是</text></g>
<g fill="#fff"><text x="1198.80" y="756.30">头条</text><text x="1316.30" y="756.30">认是</text></g>
</g>
</svg>
<div class="t ts title" style="left:61.8px;top:13.6px;font-size:28px;">15:</div>
<div class="t gh" style="left:20px;top:16px;font-size:24.5px;letter-spacing:4.4px;">图 15: 品牌在小红书平台从种草到拔草</div>
<div class="t la" style="left:630.8px;top:85.4px;font-size:16px;">-</div>
<div class="t la" style="left:653.6px;top:86.4px;font-size:16px;letter-spacing:0.9px;">SKINO</div>
<div class="t gh" style="left:492.5px;top:86.2px;font-size:16px;letter-spacing:1px;">品牌内容营销路径-以SKINO 肌漾为例（不含硬广）</div>
<div class="t gh" style="left:73.5px;top:144.2px;font-size:16px;letter-spacing:1px;">内容端</div>
<div class="t gh" style="left:65.8px;top:374px;font-size:16px;letter-spacing:1px;">内容集合</div>
<div class="t gh" style="left:65.6px;top:598px;font-size:16px;letter-spacing:1px;">交易闭环</div>
<div class="t gh" style="left:380.6px;top:144.7px;font-size:16px;letter-spacing:1px;">用户生产</div>
<div class="t gh" style="left:714px;top:144.7px;font-size:16px;letter-spacing:1px;">品牌生产</div>
<div class="t gh" style="left:933.6px;top:144.7px;font-size:16px;letter-spacing:1.2px;">用户生产，品牌投放</div>
<div class="t gh" style="left:167.9px;top:294.4px;font-size:16px;letter-spacing:1px;">好物体验笔记</div>
<div class="t gh" style="left:336.8px;top:294.4px;font-size:16px;letter-spacing:1px;">用户自发种草</div>
<div class="t gh" style="left:525px;top:294.4px;font-size:16px;letter-spacing:1px;">商业合作笔记</div>
<div class="t gh" style="left:716.8px;top:294.4px;font-size:16px;letter-spacing:1px;">官方笔记</div>
<div class="t gh" style="left:892.9px;top:294.4px;font-size:16px;letter-spacing:1px;">赞助笔记</div>
<div class="t gh" style="left:1010.2px;top:294.2px;font-size:16px;letter-spacing:1px;">广告笔记（图为其他品牌）</div>
<div class="t gh" style="left:113.8px;top:215.8px;font-size:12.5px;letter-spacing:0.7px;">好物体验标签</div>
<div class="t gh" style="left:245px;top:214.2px;font-size:12.5px;letter-spacing:0.7px;">品牌标记</div>
<div class="t gh" style="left:339.3px;top:214.5px;font-size:12.5px;letter-spacing:0.7px;">商品标记</div>
<div class="t gh" style="left:367.3px;top:252.5px;font-size:12.5px;letter-spacing:0.7px;">话题标签</div>
<div class="t gh" style="left:818px;top:234.5px;font-size:12.5px;letter-spacing:0.7px;">赞助标记</div>
<div class="t gh" style="left:993.2px;top:237.5px;font-size:12.5px;letter-spacing:0.7px;">广告标记</div>
<div class="t gh" style="left:246.8px;top:414.5px;font-size:12.5px;letter-spacing:0.7px;">可再跳转专业号</div>
<div class="t gh" style="left:1038.8px;top:332.5px;font-size:12.5px;letter-spacing:0.7px;">所有笔记皆可</div>
<div class="t gh" style="left:1038.8px;top:349.5px;font-size:12.5px;letter-spacing:0.7px;">添加话题标签</div>
<div class="t gh" style="left:996.2px;top:557.5px;font-size:12.5px;letter-spacing:0.7px;">站外成交</div>
<div class="t gh" style="left:1079px;top:557.5px;font-size:12.5px;letter-spacing:0.7px;">站内成交</div>
<div class="t gh" style="left:171.1px;top:480px;font-size:16px;letter-spacing:1px;">好物体验页面</div>
<div class="t gh" style="left:337.1px;top:480px;font-size:16px;letter-spacing:1px;">品牌标记页面</div>
<div class="t gh" style="left:536px;top:480px;font-size:16px;letter-spacing:1px;">专业号页面</div>
<div class="t gh" style="left:691.8px;top:480px;font-size:16px;letter-spacing:1px;">商品标记页面</div>
<div class="t gh" style="left:997px;top:480px;font-size:16px;letter-spacing:1px;">话题页面</div>
<div class="t gh" style="left:556.8px;top:699.2px;font-size:16px;letter-spacing:1px;">店铺</div>
<div class="t gh" style="left:711px;top:699px;font-size:16px;letter-spacing:1px;">商品页面</div>
<div class="t gh" style="left:922.3px;top:698px;font-size:16px;letter-spacing:1px;">落地页(站外商店)</div>
<div class="t gh" style="left:1071px;top:698px;font-size:16px;letter-spacing:1px;">内容页面购买弹窗</div>
<div class="t gh" style="left:482.3px;top:732px;font-size:16px;letter-spacing:1px;">商城页面成交</div>
<div class="t gh" style="left:993.2px;top:733px;font-size:16px;letter-spacing:1px;">内容页面成交</div>
<div class="t la" style="left:1356.2px;top:442.8px;font-size:12.5px;">5</div>
<div class="t la" style="left:1225.6px;top:440.6px;font-size:15px;">&bull;</div>
<div class="t la" style="left:1225.6px;top:557.8px;font-size:15px;">&bull;</div>
<div class="t gh" style="left:1248.6px;top:441.2px;font-size:12.5px;letter-spacing:0.5px;line-height:16.8px;">点开商业合作笔记5秒<br>后，图片左下角品牌合<br>作标示消失，部分笔记<br>此时出现&ldquo;购买同款商<br>品&rdquo;，点击会跳出购买<br>弹窗</div>
<div class="t gh" style="left:1248.6px;top:558.6px;font-size:12.5px;letter-spacing:0.5px;line-height:16.8px;">购买弹窗可再跳转商品<br>页面</div>
<div class="t wm" style="left:1275.4px;top:724.2px;font-size:37px;">@</div>
<div class="t gh" style="left:1199.5px;top:726.5px;font-size:34px;letter-spacing:0.8px;">头条 @认是</div>
</body></html>
